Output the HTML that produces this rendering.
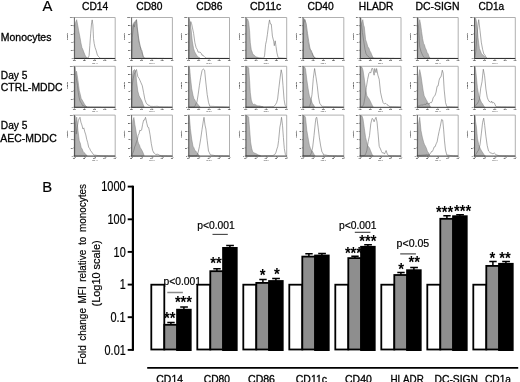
<!DOCTYPE html>
<html lang="en"><head><meta charset="utf-8"><title>Figure</title>
<style>html,body{margin:0;padding:0;background:#fff}body{width:520px;height:382px;overflow:hidden}svg text{white-space:pre}</style>
</head><body>
<svg width="520" height="382" viewBox="0 0 520 382" font-family='"Liberation Sans", sans-serif' style="display:block">
<rect width="520" height="382" fill="#fff"/>
<defs><filter id="bl" x="-5%" y="-5%" width="110%" height="110%"><feGaussianBlur stdDeviation="0.3"/></filter></defs>
<text x="42.4" y="11.4" font-size="14.8" fill="#000" stroke="#000" stroke-width="0.18">A</text>
<text x="82.0" y="10.1" font-size="10.4" textLength="26.3" lengthAdjust="spacingAndGlyphs" fill="#000" stroke="#000" stroke-width="0.3">CD14</text>
<text x="136.3" y="10.1" font-size="10.4" textLength="26.2" lengthAdjust="spacingAndGlyphs" fill="#000" stroke="#000" stroke-width="0.3">CD80</text>
<text x="196.3" y="10.1" font-size="10.4" textLength="26.2" lengthAdjust="spacingAndGlyphs" fill="#000" stroke="#000" stroke-width="0.3">CD86</text>
<text x="250.0" y="10.1" font-size="10.4" textLength="31.3" lengthAdjust="spacingAndGlyphs" fill="#000" stroke="#000" stroke-width="0.3">CD11c</text>
<text x="307.5" y="10.1" font-size="10.4" textLength="26.3" lengthAdjust="spacingAndGlyphs" fill="#000" stroke="#000" stroke-width="0.3">CD40</text>
<text x="358.8" y="10.1" font-size="10.4" textLength="34.7" lengthAdjust="spacingAndGlyphs" fill="#000" stroke="#000" stroke-width="0.3">HLADR</text>
<text x="415.4" y="10.1" font-size="10.4" textLength="44.1" lengthAdjust="spacingAndGlyphs" fill="#000" stroke="#000" stroke-width="0.3">DC-SIGN</text>
<text x="478.4" y="10.1" font-size="10.4" textLength="25.8" lengthAdjust="spacingAndGlyphs" fill="#000" stroke="#000" stroke-width="0.3">CD1a</text>
<text x="0.8" y="40.9" font-size="10.4" textLength="50.6" lengthAdjust="spacingAndGlyphs" fill="#000" stroke="#000" stroke-width="0.3">Monocytes</text>
<text x="0.8" y="78.6" font-size="10.4" textLength="26.6" lengthAdjust="spacingAndGlyphs" fill="#000" stroke="#000" stroke-width="0.3">Day 5</text>
<text x="0.8" y="90.8" font-size="10.4" textLength="61.8" lengthAdjust="spacingAndGlyphs" fill="#000" stroke="#000" stroke-width="0.3">CTRL-MDDC</text>
<text x="0.8" y="129.3" font-size="10.4" textLength="26.6" lengthAdjust="spacingAndGlyphs" fill="#000" stroke="#000" stroke-width="0.3">Day 5</text>
<text x="0.3" y="141.9" font-size="10.4" textLength="56.4" lengthAdjust="spacingAndGlyphs" fill="#000" stroke="#000" stroke-width="0.3">AEC-MDDC</text>
<g filter="url(#bl)">
<path d="M74.4 17.5H115.2V58.5" fill="none" stroke="#9c9c9c" stroke-width="0.8"/>
<polygon points="74.7,58.5 74.9,25.1 75.7,22.1 76.7,19.7 77.8,25.8 78.7,30.7 80.0,37.5 80.9,42.7 81.9,47.5 82.9,49.6 83.8,52.1 84.8,54.6 85.8,56.8 86.7,57.4 87.7,58.2" fill="#b2b2b2" stroke="#808080" stroke-width="0.5" stroke-linejoin="round"/>
<polyline points="74.7,58.2 75.4,58.2 76.1,58.2 76.9,58.2 77.6,58.2 78.4,58.2 79.1,58.2 79.8,58.2 80.6,58.2 81.3,58.2 82.1,58.2 82.8,58.2 83.5,58.2 84.3,58.2 85.0,58.2 85.8,58.2 86.6,58.1 87.5,58.0 88.3,57.8 89.1,55.5 89.8,45.6 90.7,33.2 91.6,22.8 92.2,19.9 92.9,24.9 93.5,38.6 94.2,43.6 95.1,47.6 96.1,50.4 97.4,55.1 98.7,56.8 99.4,57.4 100.2,58.2 100.9,58.2 101.6,58.3 102.3,58.3 103.0,58.3 103.7,58.3 104.4,58.3 105.1,58.3 105.8,58.3 106.5,58.3 107.2,58.3 107.9,58.3 108.6,58.3 109.3,58.3 110.0,58.3 110.7,58.3 111.4,58.3 112.1,58.3 112.8,58.4 113.5,58.4 114.2,58.4 114.9,58.4" fill="none" stroke="#707070" stroke-width="0.6" stroke-linejoin="round"/>
<path d="M74.4 17.5V58.5" fill="none" stroke="#3a3a3a" stroke-width="0.8"/>
<path d="M74.0 58.5H115.2" fill="none" stroke="#333" stroke-width="1"/>
<path d="M73.2 58.5H74.4M73.2 50.3H74.4M73.2 42.1H74.4M73.2 33.9H74.4M73.2 25.7H74.4M73.2 17.5H74.4M74.4 58.5V59.9M84.6 58.5V59.9M94.8 58.5V59.9M105.0 58.5V59.9M115.2 58.5V59.9" stroke="#555" stroke-width="0.6" fill="none"/>
<g font-size="2.0" fill="#000" font-weight="bold">
<text x="74.2" y="61.4" text-anchor="middle">10<tspan dy="-0.6" font-size="1.3">0</tspan></text>
<text x="84.4" y="61.4" text-anchor="middle">10<tspan dy="-0.6" font-size="1.3">1</tspan></text>
<text x="94.6" y="61.4" text-anchor="middle">10<tspan dy="-0.6" font-size="1.3">2</tspan></text>
<text x="104.8" y="61.4" text-anchor="middle">10<tspan dy="-0.6" font-size="1.3">3</tspan></text>
<text x="115.0" y="61.4" text-anchor="middle">10<tspan dy="-0.6" font-size="1.3">4</tspan></text>
<text x="72.7" y="59.1" text-anchor="end" font-size="1.7">0</text>
<text x="72.7" y="50.9" text-anchor="end" font-size="1.7">20</text>
<text x="72.7" y="42.7" text-anchor="end" font-size="1.7">40</text>
<text x="72.7" y="34.5" text-anchor="end" font-size="1.7">60</text>
<text x="72.7" y="26.3" text-anchor="end" font-size="1.7">80</text>
<text x="72.7" y="18.1" text-anchor="end" font-size="1.7">100</text>
<text x="94.8" y="63.5" text-anchor="middle" font-size="1.9" font-weight="normal">FL1-H</text>
<text transform="translate(68.1 36.5) rotate(-90)" text-anchor="middle" font-size="2.0" fill="#222">Counts</text>
</g></g>
<g filter="url(#bl)">
<path d="M131.6 17.5H172.4V58.5" fill="none" stroke="#9c9c9c" stroke-width="0.8"/>
<polygon points="131.8,58.5 132.1,27.7 133.2,23.7 134.5,21.9 135.4,22.5 136.5,19.8 137.1,28.1 138.4,38.2 139.7,45.5 140.7,48.0 141.6,51.4 142.9,55.9 144.2,58.2" fill="#b2b2b2" stroke="#808080" stroke-width="0.5" stroke-linejoin="round"/>
<polyline points="131.8,58.2 132.3,37.5 133.6,24.6 134.4,27.1 135.2,21.7 136.5,19.7 137.2,26.8 138.0,33.2 139.0,40.9 140.3,46.4 141.1,49.7 141.9,50.7 143.2,56.4 144.5,58.0 145.2,58.0 145.9,58.0 146.6,58.0 147.3,58.0 148.0,58.0 148.7,58.0 149.4,58.0 150.1,58.1 150.8,58.1 151.6,58.1 152.3,58.1 153.0,58.1 153.7,58.1 154.4,58.1 155.1,58.1 155.8,58.1 156.5,58.1 157.2,58.2 157.9,58.2 158.6,58.2 159.3,58.2 160.1,58.2 160.8,58.2 161.5,58.2 162.2,58.2 162.9,58.2 163.6,58.2 164.3,58.3 165.0,58.3 165.7,58.3 166.4,58.3 167.1,58.3 167.9,58.3 168.6,58.3 169.3,58.3 170.0,58.3 170.7,58.3 171.4,58.4 172.1,58.4" fill="none" stroke="#707070" stroke-width="0.6" stroke-linejoin="round"/>
<path d="M131.6 17.5V58.5" fill="none" stroke="#3a3a3a" stroke-width="0.8"/>
<path d="M131.2 58.5H172.4" fill="none" stroke="#333" stroke-width="1"/>
<path d="M130.4 58.5H131.6M130.4 50.3H131.6M130.4 42.1H131.6M130.4 33.9H131.6M130.4 25.7H131.6M130.4 17.5H131.6M131.6 58.5V59.9M141.8 58.5V59.9M152.0 58.5V59.9M162.2 58.5V59.9M172.4 58.5V59.9" stroke="#555" stroke-width="0.6" fill="none"/>
<g font-size="2.0" fill="#000" font-weight="bold">
<text x="131.4" y="61.4" text-anchor="middle">10<tspan dy="-0.6" font-size="1.3">0</tspan></text>
<text x="141.6" y="61.4" text-anchor="middle">10<tspan dy="-0.6" font-size="1.3">1</tspan></text>
<text x="151.8" y="61.4" text-anchor="middle">10<tspan dy="-0.6" font-size="1.3">2</tspan></text>
<text x="162.0" y="61.4" text-anchor="middle">10<tspan dy="-0.6" font-size="1.3">3</tspan></text>
<text x="172.2" y="61.4" text-anchor="middle">10<tspan dy="-0.6" font-size="1.3">4</tspan></text>
<text x="129.9" y="59.1" text-anchor="end" font-size="1.7">0</text>
<text x="129.9" y="50.9" text-anchor="end" font-size="1.7">20</text>
<text x="129.9" y="42.7" text-anchor="end" font-size="1.7">40</text>
<text x="129.9" y="34.5" text-anchor="end" font-size="1.7">60</text>
<text x="129.9" y="26.3" text-anchor="end" font-size="1.7">80</text>
<text x="129.9" y="18.1" text-anchor="end" font-size="1.7">100</text>
<text x="152.0" y="63.5" text-anchor="middle" font-size="1.9" font-weight="normal">FL1-H</text>
<text transform="translate(125.3 36.5) rotate(-90)" text-anchor="middle" font-size="2.0" fill="#222">Counts</text>
</g></g>
<g filter="url(#bl)">
<path d="M188.7 17.5H229.5V58.5" fill="none" stroke="#9c9c9c" stroke-width="0.8"/>
<polygon points="189.0,58.5 189.2,18.3 190.0,22.2 191.0,28.5 192.3,41.1 193.6,48.7 194.6,51.7 195.6,53.4 196.5,55.1 197.5,56.4 198.4,56.9 199.2,57.7 200.1,58.2" fill="#b2b2b2" stroke="#808080" stroke-width="0.5" stroke-linejoin="round"/>
<polyline points="189.0,58.2 189.5,28.9 190.8,21.6 191.6,23.7 192.3,27.1 193.6,33.3 194.9,42.8 196.2,47.9 197.2,49.3 198.1,52.1 199.1,52.2 200.1,52.1 201.1,53.1 202.0,55.2 203.0,55.1 204.0,56.4 204.8,57.2 205.7,57.6 206.5,58.1 207.3,58.1 208.0,58.1 208.7,58.1 209.4,58.1 210.1,58.1 210.8,58.2 211.6,58.2 212.3,58.2 213.0,58.2 213.7,58.2 214.4,58.2 215.2,58.2 215.9,58.2 216.6,58.2 217.3,58.2 218.0,58.2 218.7,58.2 219.5,58.3 220.2,58.3 220.9,58.3 221.6,58.3 222.3,58.3 223.1,58.3 223.8,58.3 224.5,58.3 225.2,58.3 225.9,58.3 226.6,58.3 227.4,58.3 228.1,58.4 228.8,58.4 229.5,58.4" fill="none" stroke="#707070" stroke-width="0.6" stroke-linejoin="round"/>
<path d="M188.7 17.5V58.5" fill="none" stroke="#3a3a3a" stroke-width="0.8"/>
<path d="M188.3 58.5H229.5" fill="none" stroke="#333" stroke-width="1"/>
<path d="M187.5 58.5H188.7M187.5 50.3H188.7M187.5 42.1H188.7M187.5 33.9H188.7M187.5 25.7H188.7M187.5 17.5H188.7M188.7 58.5V59.9M198.9 58.5V59.9M209.1 58.5V59.9M219.3 58.5V59.9M229.5 58.5V59.9" stroke="#555" stroke-width="0.6" fill="none"/>
<g font-size="2.0" fill="#000" font-weight="bold">
<text x="188.5" y="61.4" text-anchor="middle">10<tspan dy="-0.6" font-size="1.3">0</tspan></text>
<text x="198.7" y="61.4" text-anchor="middle">10<tspan dy="-0.6" font-size="1.3">1</tspan></text>
<text x="208.9" y="61.4" text-anchor="middle">10<tspan dy="-0.6" font-size="1.3">2</tspan></text>
<text x="219.1" y="61.4" text-anchor="middle">10<tspan dy="-0.6" font-size="1.3">3</tspan></text>
<text x="229.3" y="61.4" text-anchor="middle">10<tspan dy="-0.6" font-size="1.3">4</tspan></text>
<text x="187.0" y="59.1" text-anchor="end" font-size="1.7">0</text>
<text x="187.0" y="50.9" text-anchor="end" font-size="1.7">20</text>
<text x="187.0" y="42.7" text-anchor="end" font-size="1.7">40</text>
<text x="187.0" y="34.5" text-anchor="end" font-size="1.7">60</text>
<text x="187.0" y="26.3" text-anchor="end" font-size="1.7">80</text>
<text x="187.0" y="18.1" text-anchor="end" font-size="1.7">100</text>
<text x="209.1" y="63.5" text-anchor="middle" font-size="1.9" font-weight="normal">FL1-H</text>
<text transform="translate(182.4 36.5) rotate(-90)" text-anchor="middle" font-size="2.0" fill="#222">Counts</text>
</g></g>
<g filter="url(#bl)">
<path d="M245.9 17.5H286.7V58.5" fill="none" stroke="#9c9c9c" stroke-width="0.8"/>
<polygon points="246.1,58.5 246.4,18.5 247.7,19.2 248.7,22.4 249.6,30.9 250.3,42.8 251.3,49.9 252.1,51.8 252.9,54.6 253.8,54.8 254.6,55.5 255.5,56.4 256.3,56.9 257.1,57.1 257.9,57.5 258.7,57.8 259.5,57.9 260.3,58.0 261.0,58.1 261.8,58.2 262.5,58.3 263.3,58.4" fill="#b2b2b2" stroke="#808080" stroke-width="0.5" stroke-linejoin="round"/>
<polyline points="246.1,58.2 246.9,58.2 247.6,58.2 248.3,58.2 249.0,58.2 249.7,58.2 250.4,58.2 251.1,58.2 251.9,58.2 252.6,58.2 253.3,58.2 254.0,58.2 254.7,58.2 255.4,58.2 256.1,58.2 256.9,58.2 257.6,58.2 258.3,58.2 259.0,58.2 259.7,58.2 260.4,58.2 261.1,58.2 261.9,58.2 262.6,58.2 263.3,58.2 264.1,57.5 264.6,55.2 265.6,44.4 266.5,40.5 267.4,34.4 268.5,25.7 269.5,19.9 270.4,24.0 271.3,24.2 272.4,36.1 273.7,41.2 274.3,45.7 275.2,40.8 276.0,46.4 276.9,52.7 278.2,57.8 279.0,57.9 279.7,57.9 280.5,58.0 281.2,58.0 282.0,58.1 282.7,58.1 283.4,58.2 284.2,58.2 284.9,58.3 285.7,58.3 286.4,58.4" fill="none" stroke="#707070" stroke-width="0.6" stroke-linejoin="round"/>
<path d="M245.9 17.5V58.5" fill="none" stroke="#3a3a3a" stroke-width="0.8"/>
<path d="M245.5 58.5H286.7" fill="none" stroke="#333" stroke-width="1"/>
<path d="M244.7 58.5H245.9M244.7 50.3H245.9M244.7 42.1H245.9M244.7 33.9H245.9M244.7 25.7H245.9M244.7 17.5H245.9M245.9 58.5V59.9M256.1 58.5V59.9M266.3 58.5V59.9M276.5 58.5V59.9M286.7 58.5V59.9" stroke="#555" stroke-width="0.6" fill="none"/>
<g font-size="2.0" fill="#000" font-weight="bold">
<text x="245.7" y="61.4" text-anchor="middle">10<tspan dy="-0.6" font-size="1.3">0</tspan></text>
<text x="255.9" y="61.4" text-anchor="middle">10<tspan dy="-0.6" font-size="1.3">1</tspan></text>
<text x="266.1" y="61.4" text-anchor="middle">10<tspan dy="-0.6" font-size="1.3">2</tspan></text>
<text x="276.3" y="61.4" text-anchor="middle">10<tspan dy="-0.6" font-size="1.3">3</tspan></text>
<text x="286.5" y="61.4" text-anchor="middle">10<tspan dy="-0.6" font-size="1.3">4</tspan></text>
<text x="244.2" y="59.1" text-anchor="end" font-size="1.7">0</text>
<text x="244.2" y="50.9" text-anchor="end" font-size="1.7">20</text>
<text x="244.2" y="42.7" text-anchor="end" font-size="1.7">40</text>
<text x="244.2" y="34.5" text-anchor="end" font-size="1.7">60</text>
<text x="244.2" y="26.3" text-anchor="end" font-size="1.7">80</text>
<text x="244.2" y="18.1" text-anchor="end" font-size="1.7">100</text>
<text x="266.3" y="63.5" text-anchor="middle" font-size="1.9" font-weight="normal">FL1-H</text>
<text transform="translate(239.6 36.5) rotate(-90)" text-anchor="middle" font-size="2.0" fill="#222">Counts</text>
</g></g>
<g filter="url(#bl)">
<path d="M303.0 17.5H343.8V58.5" fill="none" stroke="#9c9c9c" stroke-width="0.8"/>
<polygon points="303.3,58.5 303.6,18.5 304.6,19.2 305.5,22.9 306.8,32.6 308.1,41.7 309.4,47.9 310.4,49.9 311.4,52.6 312.3,53.6 313.3,55.9 314.3,56.9 315.3,58.2" fill="#b2b2b2" stroke="#808080" stroke-width="0.5" stroke-linejoin="round"/>
<polyline points="303.3,58.2 303.8,23.0 304.9,19.7 306.2,23.7 307.5,33.4 308.8,42.0 310.1,49.2 311.0,50.2 311.9,52.2 312.8,54.9 313.7,57.0 314.7,57.6 315.8,58.2 316.5,58.2 317.2,58.2 317.9,58.2 318.6,58.3 319.3,58.3 320.1,58.3 320.8,58.3 321.5,58.3 322.2,58.3 322.9,58.3 323.6,58.3 324.3,58.3 325.0,58.3 325.8,58.3 326.5,58.3 327.2,58.3 327.9,58.3 328.6,58.3 329.3,58.3 330.0,58.3 330.7,58.3 331.5,58.3 332.2,58.3 332.9,58.3 333.6,58.3 334.3,58.3 335.0,58.3 335.7,58.3 336.5,58.3 337.2,58.3 337.9,58.3 338.6,58.3 339.3,58.3 340.0,58.4 340.7,58.4 341.4,58.4 342.2,58.4 342.9,58.4 343.6,58.4" fill="none" stroke="#707070" stroke-width="0.6" stroke-linejoin="round"/>
<path d="M303.0 17.5V58.5" fill="none" stroke="#3a3a3a" stroke-width="0.8"/>
<path d="M302.6 58.5H343.8" fill="none" stroke="#333" stroke-width="1"/>
<path d="M301.8 58.5H303.0M301.8 50.3H303.0M301.8 42.1H303.0M301.8 33.9H303.0M301.8 25.7H303.0M301.8 17.5H303.0M303.0 58.5V59.9M313.2 58.5V59.9M323.4 58.5V59.9M333.6 58.5V59.9M343.8 58.5V59.9" stroke="#555" stroke-width="0.6" fill="none"/>
<g font-size="2.0" fill="#000" font-weight="bold">
<text x="302.8" y="61.4" text-anchor="middle">10<tspan dy="-0.6" font-size="1.3">0</tspan></text>
<text x="313.0" y="61.4" text-anchor="middle">10<tspan dy="-0.6" font-size="1.3">1</tspan></text>
<text x="323.2" y="61.4" text-anchor="middle">10<tspan dy="-0.6" font-size="1.3">2</tspan></text>
<text x="333.4" y="61.4" text-anchor="middle">10<tspan dy="-0.6" font-size="1.3">3</tspan></text>
<text x="343.6" y="61.4" text-anchor="middle">10<tspan dy="-0.6" font-size="1.3">4</tspan></text>
<text x="301.3" y="59.1" text-anchor="end" font-size="1.7">0</text>
<text x="301.3" y="50.9" text-anchor="end" font-size="1.7">20</text>
<text x="301.3" y="42.7" text-anchor="end" font-size="1.7">40</text>
<text x="301.3" y="34.5" text-anchor="end" font-size="1.7">60</text>
<text x="301.3" y="26.3" text-anchor="end" font-size="1.7">80</text>
<text x="301.3" y="18.1" text-anchor="end" font-size="1.7">100</text>
<text x="323.4" y="63.5" text-anchor="middle" font-size="1.9" font-weight="normal">FL1-H</text>
<text transform="translate(296.7 36.5) rotate(-90)" text-anchor="middle" font-size="2.0" fill="#222">Counts</text>
</g></g>
<g filter="url(#bl)">
<path d="M360.2 17.5H401.0V58.5" fill="none" stroke="#9c9c9c" stroke-width="0.8"/>
<polygon points="360.5,58.5 360.7,31.6 361.8,22.7 362.8,19.7 363.6,25.1 364.3,27.0 365.6,39.4 366.9,43.4 367.9,47.0 368.9,48.1 369.8,50.9 370.8,52.4 371.8,55.0 372.8,57.1 373.4,58.2" fill="#b2b2b2" stroke="#808080" stroke-width="0.5" stroke-linejoin="round"/>
<polyline points="360.5,58.2 360.7,17.9 361.5,24.1 362.4,32.5 363.7,41.1 365.0,49.5 366.0,53.6 366.9,55.1 367.8,56.3 368.7,56.7 369.5,57.8 370.2,57.9 371.0,57.9 371.7,57.9 372.4,57.9 373.1,57.9 373.8,57.9 374.5,57.9 375.2,57.9 375.9,58.0 376.6,58.0 377.4,58.0 378.1,58.0 378.8,58.0 379.5,58.0 380.2,58.0 380.9,58.0 381.6,58.0 382.3,58.1 383.1,58.1 383.8,58.1 384.5,58.1 385.2,58.1 385.9,58.1 386.6,58.1 387.3,58.1 388.0,58.2 388.8,58.2 389.5,58.2 390.2,58.2 390.9,58.2 391.6,58.2 392.3,58.2 393.0,58.2 393.7,58.2 394.5,58.3 395.2,58.3 395.9,58.3 396.6,58.3 397.3,58.3 398.0,58.3 398.7,58.3 399.4,58.3 400.2,58.4 400.9,58.4" fill="none" stroke="#707070" stroke-width="0.6" stroke-linejoin="round"/>
<path d="M360.2 17.5V58.5" fill="none" stroke="#3a3a3a" stroke-width="0.8"/>
<path d="M359.8 58.5H401.0" fill="none" stroke="#333" stroke-width="1"/>
<path d="M359.0 58.5H360.2M359.0 50.3H360.2M359.0 42.1H360.2M359.0 33.9H360.2M359.0 25.7H360.2M359.0 17.5H360.2M360.2 58.5V59.9M370.4 58.5V59.9M380.6 58.5V59.9M390.8 58.5V59.9M401.0 58.5V59.9" stroke="#555" stroke-width="0.6" fill="none"/>
<g font-size="2.0" fill="#000" font-weight="bold">
<text x="360.0" y="61.4" text-anchor="middle">10<tspan dy="-0.6" font-size="1.3">0</tspan></text>
<text x="370.2" y="61.4" text-anchor="middle">10<tspan dy="-0.6" font-size="1.3">1</tspan></text>
<text x="380.4" y="61.4" text-anchor="middle">10<tspan dy="-0.6" font-size="1.3">2</tspan></text>
<text x="390.6" y="61.4" text-anchor="middle">10<tspan dy="-0.6" font-size="1.3">3</tspan></text>
<text x="400.8" y="61.4" text-anchor="middle">10<tspan dy="-0.6" font-size="1.3">4</tspan></text>
<text x="358.5" y="59.1" text-anchor="end" font-size="1.7">0</text>
<text x="358.5" y="50.9" text-anchor="end" font-size="1.7">20</text>
<text x="358.5" y="42.7" text-anchor="end" font-size="1.7">40</text>
<text x="358.5" y="34.5" text-anchor="end" font-size="1.7">60</text>
<text x="358.5" y="26.3" text-anchor="end" font-size="1.7">80</text>
<text x="358.5" y="18.1" text-anchor="end" font-size="1.7">100</text>
<text x="380.6" y="63.5" text-anchor="middle" font-size="1.9" font-weight="normal">FL1-H</text>
<text transform="translate(353.9 36.5) rotate(-90)" text-anchor="middle" font-size="2.0" fill="#222">Counts</text>
</g></g>
<g filter="url(#bl)">
<path d="M417.4 17.5H458.2V58.5" fill="none" stroke="#9c9c9c" stroke-width="0.8"/>
<polygon points="417.6,58.5 417.9,38.2 418.7,26.9 419.7,19.7 420.7,25.0 421.6,31.7 422.6,38.6 423.6,43.4 424.4,44.7 425.3,48.0 426.1,49.4 427.1,52.5 428.1,53.8 429.0,56.5 430.0,58.1" fill="#b2b2b2" stroke="#808080" stroke-width="0.5" stroke-linejoin="round"/>
<polyline points="417.6,58.2 417.9,17.9 418.7,28.9 419.7,47.0 421.0,51.5 421.9,53.7 422.9,55.8 423.9,57.2 424.8,58.1 425.6,58.1 426.3,58.1 427.0,58.1 427.7,58.1 428.4,58.1 429.1,58.1 429.8,58.1 430.5,58.2 431.2,58.2 431.9,58.2 432.6,58.2 433.3,58.2 434.0,58.2 434.7,58.2 435.4,58.2 436.1,58.2 436.8,58.2 437.5,58.2 438.2,58.2 438.9,58.2 439.6,58.2 440.3,58.2 441.0,58.2 441.7,58.2 442.4,58.2 443.1,58.3 443.8,58.3 444.5,58.3 445.2,58.3 445.9,58.3 446.6,58.3 447.4,58.3 448.1,58.3 448.8,58.3 449.5,58.3 450.2,58.3 450.9,58.3 451.6,58.3 452.3,58.3 453.0,58.3 453.7,58.3 454.4,58.3 455.1,58.3 455.8,58.4 456.5,58.4 457.2,58.4 457.9,58.4" fill="none" stroke="#707070" stroke-width="0.6" stroke-linejoin="round"/>
<path d="M417.4 17.5V58.5" fill="none" stroke="#3a3a3a" stroke-width="0.8"/>
<path d="M417.0 58.5H458.2" fill="none" stroke="#333" stroke-width="1"/>
<path d="M416.2 58.5H417.4M416.2 50.3H417.4M416.2 42.1H417.4M416.2 33.9H417.4M416.2 25.7H417.4M416.2 17.5H417.4M417.4 58.5V59.9M427.6 58.5V59.9M437.8 58.5V59.9M448.0 58.5V59.9M458.2 58.5V59.9" stroke="#555" stroke-width="0.6" fill="none"/>
<g font-size="2.0" fill="#000" font-weight="bold">
<text x="417.2" y="61.4" text-anchor="middle">10<tspan dy="-0.6" font-size="1.3">0</tspan></text>
<text x="427.4" y="61.4" text-anchor="middle">10<tspan dy="-0.6" font-size="1.3">1</tspan></text>
<text x="437.6" y="61.4" text-anchor="middle">10<tspan dy="-0.6" font-size="1.3">2</tspan></text>
<text x="447.8" y="61.4" text-anchor="middle">10<tspan dy="-0.6" font-size="1.3">3</tspan></text>
<text x="458.0" y="61.4" text-anchor="middle">10<tspan dy="-0.6" font-size="1.3">4</tspan></text>
<text x="415.7" y="59.1" text-anchor="end" font-size="1.7">0</text>
<text x="415.7" y="50.9" text-anchor="end" font-size="1.7">20</text>
<text x="415.7" y="42.7" text-anchor="end" font-size="1.7">40</text>
<text x="415.7" y="34.5" text-anchor="end" font-size="1.7">60</text>
<text x="415.7" y="26.3" text-anchor="end" font-size="1.7">80</text>
<text x="415.7" y="18.1" text-anchor="end" font-size="1.7">100</text>
<text x="437.8" y="63.5" text-anchor="middle" font-size="1.9" font-weight="normal">FL1-H</text>
<text transform="translate(411.1 36.5) rotate(-90)" text-anchor="middle" font-size="2.0" fill="#222">Counts</text>
</g></g>
<g filter="url(#bl)">
<path d="M474.5 17.5H515.3V58.5" fill="none" stroke="#9c9c9c" stroke-width="0.8"/>
<polygon points="474.8,58.5 475.0,18.3 475.8,18.5 476.7,23.0 478.1,38.0 479.4,48.5 480.3,50.6 481.3,53.2 482.2,54.5 483.1,55.1 483.9,56.1 484.8,56.7 485.7,57.5 486.6,58.2" fill="#b2b2b2" stroke="#808080" stroke-width="0.5" stroke-linejoin="round"/>
<polyline points="474.8,58.2 475.8,51.3 476.9,37.2 477.9,26.0 478.7,19.7 480.0,30.5 481.3,42.2 482.6,49.4 483.9,54.3 484.9,54.9 485.9,57.0 487.2,58.2 487.9,58.2 488.6,58.2 489.3,58.2 490.1,58.3 490.8,58.3 491.5,58.3 492.2,58.3 492.9,58.3 493.6,58.3 494.3,58.3 495.1,58.3 495.8,58.3 496.5,58.3 497.2,58.3 497.9,58.3 498.6,58.3 499.3,58.3 500.1,58.3 500.8,58.3 501.5,58.3 502.2,58.3 502.9,58.3 503.6,58.3 504.3,58.3 505.1,58.3 505.8,58.3 506.5,58.3 507.2,58.3 507.9,58.3 508.6,58.3 509.3,58.3 510.1,58.3 510.8,58.3 511.5,58.4 512.2,58.4 512.9,58.4 513.6,58.4 514.3,58.4 515.1,58.4" fill="none" stroke="#707070" stroke-width="0.6" stroke-linejoin="round"/>
<path d="M474.5 17.5V58.5" fill="none" stroke="#3a3a3a" stroke-width="0.8"/>
<path d="M474.1 58.5H515.3" fill="none" stroke="#333" stroke-width="1"/>
<path d="M473.3 58.5H474.5M473.3 50.3H474.5M473.3 42.1H474.5M473.3 33.9H474.5M473.3 25.7H474.5M473.3 17.5H474.5M474.5 58.5V59.9M484.7 58.5V59.9M494.9 58.5V59.9M505.1 58.5V59.9M515.3 58.5V59.9" stroke="#555" stroke-width="0.6" fill="none"/>
<g font-size="2.0" fill="#000" font-weight="bold">
<text x="474.3" y="61.4" text-anchor="middle">10<tspan dy="-0.6" font-size="1.3">0</tspan></text>
<text x="484.5" y="61.4" text-anchor="middle">10<tspan dy="-0.6" font-size="1.3">1</tspan></text>
<text x="494.7" y="61.4" text-anchor="middle">10<tspan dy="-0.6" font-size="1.3">2</tspan></text>
<text x="504.9" y="61.4" text-anchor="middle">10<tspan dy="-0.6" font-size="1.3">3</tspan></text>
<text x="515.1" y="61.4" text-anchor="middle">10<tspan dy="-0.6" font-size="1.3">4</tspan></text>
<text x="472.8" y="59.1" text-anchor="end" font-size="1.7">0</text>
<text x="472.8" y="50.9" text-anchor="end" font-size="1.7">20</text>
<text x="472.8" y="42.7" text-anchor="end" font-size="1.7">40</text>
<text x="472.8" y="34.5" text-anchor="end" font-size="1.7">60</text>
<text x="472.8" y="26.3" text-anchor="end" font-size="1.7">80</text>
<text x="472.8" y="18.1" text-anchor="end" font-size="1.7">100</text>
<text x="494.9" y="63.5" text-anchor="middle" font-size="1.9" font-weight="normal">FL1-H</text>
<text transform="translate(468.2 36.5) rotate(-90)" text-anchor="middle" font-size="2.0" fill="#222">Counts</text>
</g></g>
<g filter="url(#bl)">
<path d="M74.4 66.3H115.2V107.3" fill="none" stroke="#9c9c9c" stroke-width="0.8"/>
<polygon points="74.7,107.3 74.9,86.3 75.7,73.6 76.5,71.2 77.2,75.2 78.0,80.7 79.3,90.7 80.3,94.4 81.2,98.5 82.2,100.1 83.2,101.8 84.1,103.4 85.1,105.1 86.1,106.2 87.1,107.0" fill="#b2b2b2" stroke="#808080" stroke-width="0.5" stroke-linejoin="round"/>
<polyline points="74.7,107.0 74.9,66.7 75.7,74.0 76.7,80.8 77.5,85.6 78.3,92.8 79.1,97.4 80.0,101.1 80.8,102.3 81.7,103.7 82.5,105.5 83.4,105.5 84.3,106.2 85.1,106.9 85.8,106.9 86.5,106.9 87.2,106.9 88.0,106.9 88.7,106.9 89.4,106.9 90.1,107.0 90.8,107.0 91.5,107.0 92.2,107.0 92.9,107.0 93.6,107.0 94.3,107.0 95.1,107.0 95.8,107.0 96.5,107.0 97.2,107.0 97.9,107.0 98.6,107.0 99.3,107.0 100.0,107.0 100.7,107.0 101.4,107.1 102.2,107.1 102.9,107.1 103.6,107.1 104.3,107.1 105.0,107.1 105.7,107.1 106.4,107.1 107.1,107.1 107.8,107.1 108.6,107.1 109.3,107.1 110.0,107.1 110.7,107.1 111.4,107.1 112.1,107.1 112.8,107.2 113.5,107.2 114.2,107.2 114.9,107.2" fill="none" stroke="#707070" stroke-width="0.6" stroke-linejoin="round"/>
<path d="M74.4 66.3V107.3" fill="none" stroke="#3a3a3a" stroke-width="0.8"/>
<path d="M74.0 107.3H115.2" fill="none" stroke="#333" stroke-width="1"/>
<path d="M73.2 107.3H74.4M73.2 99.1H74.4M73.2 90.9H74.4M73.2 82.7H74.4M73.2 74.5H74.4M73.2 66.3H74.4M74.4 107.3V108.7M84.6 107.3V108.7M94.8 107.3V108.7M105.0 107.3V108.7M115.2 107.3V108.7" stroke="#555" stroke-width="0.6" fill="none"/>
<g font-size="2.0" fill="#000" font-weight="bold">
<text x="74.2" y="110.2" text-anchor="middle">10<tspan dy="-0.6" font-size="1.3">0</tspan></text>
<text x="84.4" y="110.2" text-anchor="middle">10<tspan dy="-0.6" font-size="1.3">1</tspan></text>
<text x="94.6" y="110.2" text-anchor="middle">10<tspan dy="-0.6" font-size="1.3">2</tspan></text>
<text x="104.8" y="110.2" text-anchor="middle">10<tspan dy="-0.6" font-size="1.3">3</tspan></text>
<text x="115.0" y="110.2" text-anchor="middle">10<tspan dy="-0.6" font-size="1.3">4</tspan></text>
<text x="72.7" y="107.9" text-anchor="end" font-size="1.7">0</text>
<text x="72.7" y="99.7" text-anchor="end" font-size="1.7">20</text>
<text x="72.7" y="91.5" text-anchor="end" font-size="1.7">40</text>
<text x="72.7" y="83.3" text-anchor="end" font-size="1.7">60</text>
<text x="72.7" y="75.1" text-anchor="end" font-size="1.7">80</text>
<text x="72.7" y="66.9" text-anchor="end" font-size="1.7">100</text>
<text x="94.8" y="112.3" text-anchor="middle" font-size="1.9" font-weight="normal">FL1-H</text>
<text transform="translate(68.1 85.3) rotate(-90)" text-anchor="middle" font-size="2.0" fill="#222">Counts</text>
</g></g>
<g filter="url(#bl)">
<path d="M131.6 66.3H172.4V107.3" fill="none" stroke="#9c9c9c" stroke-width="0.8"/>
<polygon points="131.8,107.3 132.1,78.5 133.2,71.0 134.5,69.5 135.8,71.2 136.5,81.1 137.8,91.1 139.0,95.5 140.0,97.6 141.0,99.3 142.0,101.2 142.9,103.9 144.2,107.0" fill="#b2b2b2" stroke="#808080" stroke-width="0.5" stroke-linejoin="round"/>
<polyline points="131.8,107.0 132.1,86.1 133.2,78.7 134.2,74.2 135.2,72.4 136.5,69.5 137.8,76.5 139.0,78.3 140.0,80.5 141.0,82.8 142.3,85.8 143.6,92.6 144.9,99.6 146.1,102.7 147.1,104.3 148.1,105.1 149.1,105.2 150.0,106.3 150.8,106.3 151.6,106.4 152.4,106.4 153.3,106.5 154.0,106.5 154.8,106.4 155.6,106.4 156.3,106.3 157.1,106.3 158.0,106.4 158.8,106.6 159.7,106.8 160.4,106.8 161.2,106.8 161.9,106.8 162.6,106.8 163.4,106.9 164.1,106.9 164.8,106.9 165.5,106.9 166.3,106.9 167.0,106.9 167.7,106.9 168.5,107.0 169.2,107.0 169.9,107.0 170.6,107.0 171.4,107.0 172.1,107.0" fill="none" stroke="#707070" stroke-width="0.6" stroke-linejoin="round"/>
<path d="M131.6 66.3V107.3" fill="none" stroke="#3a3a3a" stroke-width="0.8"/>
<path d="M131.2 107.3H172.4" fill="none" stroke="#333" stroke-width="1"/>
<path d="M130.4 107.3H131.6M130.4 99.1H131.6M130.4 90.9H131.6M130.4 82.7H131.6M130.4 74.5H131.6M130.4 66.3H131.6M131.6 107.3V108.7M141.8 107.3V108.7M152.0 107.3V108.7M162.2 107.3V108.7M172.4 107.3V108.7" stroke="#555" stroke-width="0.6" fill="none"/>
<g font-size="2.0" fill="#000" font-weight="bold">
<text x="131.4" y="110.2" text-anchor="middle">10<tspan dy="-0.6" font-size="1.3">0</tspan></text>
<text x="141.6" y="110.2" text-anchor="middle">10<tspan dy="-0.6" font-size="1.3">1</tspan></text>
<text x="151.8" y="110.2" text-anchor="middle">10<tspan dy="-0.6" font-size="1.3">2</tspan></text>
<text x="162.0" y="110.2" text-anchor="middle">10<tspan dy="-0.6" font-size="1.3">3</tspan></text>
<text x="172.2" y="110.2" text-anchor="middle">10<tspan dy="-0.6" font-size="1.3">4</tspan></text>
<text x="129.9" y="107.9" text-anchor="end" font-size="1.7">0</text>
<text x="129.9" y="99.7" text-anchor="end" font-size="1.7">20</text>
<text x="129.9" y="91.5" text-anchor="end" font-size="1.7">40</text>
<text x="129.9" y="83.3" text-anchor="end" font-size="1.7">60</text>
<text x="129.9" y="75.1" text-anchor="end" font-size="1.7">80</text>
<text x="129.9" y="66.9" text-anchor="end" font-size="1.7">100</text>
<text x="152.0" y="112.3" text-anchor="middle" font-size="1.9" font-weight="normal">FL1-H</text>
<text transform="translate(125.3 85.3) rotate(-90)" text-anchor="middle" font-size="2.0" fill="#222">Counts</text>
</g></g>
<g filter="url(#bl)">
<path d="M188.7 66.3H229.5V107.3" fill="none" stroke="#9c9c9c" stroke-width="0.8"/>
<polygon points="189.0,107.3 189.2,66.4 189.8,69.7 190.4,76.8 191.7,88.6 193.0,95.3 193.9,98.5 194.9,100.0 195.8,101.7 196.6,102.8 197.5,103.8 198.4,105.0 199.2,106.0 200.1,107.0" fill="#b2b2b2" stroke="#808080" stroke-width="0.5" stroke-linejoin="round"/>
<polyline points="189.0,107.0 189.8,107.0 190.5,107.0 191.3,107.0 192.1,107.0 192.9,106.9 193.6,106.9 194.9,106.3 195.9,103.8 196.9,102.3 198.1,94.9 199.4,85.4 200.7,77.3 202.0,70.7 203.3,68.9 204.6,70.1 205.9,83.0 207.2,94.6 208.5,102.3 209.8,106.3 210.5,106.3 211.2,106.3 211.9,106.3 212.7,106.4 213.4,106.4 214.1,106.4 214.8,106.5 215.5,106.5 216.3,106.5 217.0,106.5 217.7,106.6 218.4,106.6 219.2,106.6 219.9,106.7 220.6,106.7 221.3,106.7 222.0,106.7 222.8,106.8 223.5,106.8 224.2,106.8 224.9,106.9 225.7,106.9 226.4,106.9 227.1,107.0 227.8,107.0 228.5,107.0 229.3,107.0" fill="none" stroke="#707070" stroke-width="0.6" stroke-linejoin="round"/>
<path d="M188.7 66.3V107.3" fill="none" stroke="#3a3a3a" stroke-width="0.8"/>
<path d="M188.3 107.3H229.5" fill="none" stroke="#333" stroke-width="1"/>
<path d="M187.5 107.3H188.7M187.5 99.1H188.7M187.5 90.9H188.7M187.5 82.7H188.7M187.5 74.5H188.7M187.5 66.3H188.7M188.7 107.3V108.7M198.9 107.3V108.7M209.1 107.3V108.7M219.3 107.3V108.7M229.5 107.3V108.7" stroke="#555" stroke-width="0.6" fill="none"/>
<g font-size="2.0" fill="#000" font-weight="bold">
<text x="188.5" y="110.2" text-anchor="middle">10<tspan dy="-0.6" font-size="1.3">0</tspan></text>
<text x="198.7" y="110.2" text-anchor="middle">10<tspan dy="-0.6" font-size="1.3">1</tspan></text>
<text x="208.9" y="110.2" text-anchor="middle">10<tspan dy="-0.6" font-size="1.3">2</tspan></text>
<text x="219.1" y="110.2" text-anchor="middle">10<tspan dy="-0.6" font-size="1.3">3</tspan></text>
<text x="229.3" y="110.2" text-anchor="middle">10<tspan dy="-0.6" font-size="1.3">4</tspan></text>
<text x="187.0" y="107.9" text-anchor="end" font-size="1.7">0</text>
<text x="187.0" y="99.7" text-anchor="end" font-size="1.7">20</text>
<text x="187.0" y="91.5" text-anchor="end" font-size="1.7">40</text>
<text x="187.0" y="83.3" text-anchor="end" font-size="1.7">60</text>
<text x="187.0" y="75.1" text-anchor="end" font-size="1.7">80</text>
<text x="187.0" y="66.9" text-anchor="end" font-size="1.7">100</text>
<text x="209.1" y="112.3" text-anchor="middle" font-size="1.9" font-weight="normal">FL1-H</text>
<text transform="translate(182.4 85.3) rotate(-90)" text-anchor="middle" font-size="2.0" fill="#222">Counts</text>
</g></g>
<g filter="url(#bl)">
<path d="M245.9 66.3H286.7V107.3" fill="none" stroke="#9c9c9c" stroke-width="0.8"/>
<polygon points="246.1,107.3 246.4,66.4 247.7,67.0 248.7,68.0 249.6,80.6 250.3,92.6 251.3,100.2 252.1,102.4 252.9,104.2 253.7,104.6 254.5,104.2 255.2,104.5 256.0,105.2 256.8,105.4 257.5,105.8 258.2,105.9 259.0,105.8 259.7,105.9 260.4,106.1 261.1,106.3 261.8,106.5 262.6,106.6 263.3,106.8" fill="#b2b2b2" stroke="#808080" stroke-width="0.5" stroke-linejoin="round"/>
<polyline points="246.1,107.0 246.9,107.0 247.6,107.0 248.3,107.0 249.0,107.0 249.7,107.0 250.4,107.0 251.1,107.0 251.9,107.0 252.6,107.0 253.3,107.0 254.0,107.0 254.7,107.0 255.4,107.0 256.1,107.0 256.9,107.0 257.6,107.0 258.3,106.9 259.0,106.9 259.7,106.9 260.4,106.9 261.1,106.9 261.9,106.9 262.6,106.9 263.3,106.9 264.0,106.9 264.8,106.9 265.5,106.8 266.3,106.8 267.0,106.8 267.7,106.7 268.5,106.7 269.2,106.7 270.0,106.7 270.7,106.6 271.5,106.6 272.2,106.6 272.9,106.5 273.7,106.5 274.7,105.7 275.6,104.4 276.6,102.7 277.6,99.1 278.9,87.7 280.2,77.1 281.2,69.8 282.1,74.1 283.0,85.6 284.1,99.7 285.1,105.2 286.4,106.9" fill="none" stroke="#707070" stroke-width="0.6" stroke-linejoin="round"/>
<path d="M245.9 66.3V107.3" fill="none" stroke="#3a3a3a" stroke-width="0.8"/>
<path d="M245.5 107.3H286.7" fill="none" stroke="#333" stroke-width="1"/>
<path d="M244.7 107.3H245.9M244.7 99.1H245.9M244.7 90.9H245.9M244.7 82.7H245.9M244.7 74.5H245.9M244.7 66.3H245.9M245.9 107.3V108.7M256.1 107.3V108.7M266.3 107.3V108.7M276.5 107.3V108.7M286.7 107.3V108.7" stroke="#555" stroke-width="0.6" fill="none"/>
<g font-size="2.0" fill="#000" font-weight="bold">
<text x="245.7" y="110.2" text-anchor="middle">10<tspan dy="-0.6" font-size="1.3">0</tspan></text>
<text x="255.9" y="110.2" text-anchor="middle">10<tspan dy="-0.6" font-size="1.3">1</tspan></text>
<text x="266.1" y="110.2" text-anchor="middle">10<tspan dy="-0.6" font-size="1.3">2</tspan></text>
<text x="276.3" y="110.2" text-anchor="middle">10<tspan dy="-0.6" font-size="1.3">3</tspan></text>
<text x="286.5" y="110.2" text-anchor="middle">10<tspan dy="-0.6" font-size="1.3">4</tspan></text>
<text x="244.2" y="107.9" text-anchor="end" font-size="1.7">0</text>
<text x="244.2" y="99.7" text-anchor="end" font-size="1.7">20</text>
<text x="244.2" y="91.5" text-anchor="end" font-size="1.7">40</text>
<text x="244.2" y="83.3" text-anchor="end" font-size="1.7">60</text>
<text x="244.2" y="75.1" text-anchor="end" font-size="1.7">80</text>
<text x="244.2" y="66.9" text-anchor="end" font-size="1.7">100</text>
<text x="266.3" y="112.3" text-anchor="middle" font-size="1.9" font-weight="normal">FL1-H</text>
<text transform="translate(239.6 85.3) rotate(-90)" text-anchor="middle" font-size="2.0" fill="#222">Counts</text>
</g></g>
<g filter="url(#bl)">
<path d="M303.0 66.3H343.8V107.3" fill="none" stroke="#9c9c9c" stroke-width="0.8"/>
<polygon points="303.3,107.3 303.6,66.4 304.6,67.0 305.5,68.9 306.8,79.6 308.1,88.6 309.4,96.0 310.4,98.2 311.4,100.6 312.3,103.3 313.3,104.6 314.6,107.0" fill="#b2b2b2" stroke="#808080" stroke-width="0.5" stroke-linejoin="round"/>
<polyline points="303.3,107.0 304.1,107.0 304.8,107.0 305.6,107.0 306.4,107.0 307.1,107.0 307.9,106.9 308.6,106.9 309.4,106.9 310.7,102.6 312.0,94.4 313.3,78.3 314.6,68.5 315.9,76.6 317.2,85.2 318.5,97.1 319.8,103.7 320.8,104.5 321.8,106.4 322.5,106.4 323.2,106.4 323.9,106.4 324.6,106.5 325.3,106.5 326.0,106.5 326.7,106.5 327.4,106.6 328.1,106.6 328.8,106.6 329.5,106.6 330.2,106.6 330.9,106.7 331.6,106.7 332.3,106.7 333.0,106.7 333.7,106.7 334.4,106.8 335.1,106.8 335.8,106.8 336.5,106.8 337.2,106.8 337.9,106.9 338.7,106.9 339.4,106.9 340.1,106.9 340.8,107.0 341.5,107.0 342.2,107.0 342.9,107.0 343.6,107.0" fill="none" stroke="#707070" stroke-width="0.6" stroke-linejoin="round"/>
<path d="M303.0 66.3V107.3" fill="none" stroke="#3a3a3a" stroke-width="0.8"/>
<path d="M302.6 107.3H343.8" fill="none" stroke="#333" stroke-width="1"/>
<path d="M301.8 107.3H303.0M301.8 99.1H303.0M301.8 90.9H303.0M301.8 82.7H303.0M301.8 74.5H303.0M301.8 66.3H303.0M303.0 107.3V108.7M313.2 107.3V108.7M323.4 107.3V108.7M333.6 107.3V108.7M343.8 107.3V108.7" stroke="#555" stroke-width="0.6" fill="none"/>
<g font-size="2.0" fill="#000" font-weight="bold">
<text x="302.8" y="110.2" text-anchor="middle">10<tspan dy="-0.6" font-size="1.3">0</tspan></text>
<text x="313.0" y="110.2" text-anchor="middle">10<tspan dy="-0.6" font-size="1.3">1</tspan></text>
<text x="323.2" y="110.2" text-anchor="middle">10<tspan dy="-0.6" font-size="1.3">2</tspan></text>
<text x="333.4" y="110.2" text-anchor="middle">10<tspan dy="-0.6" font-size="1.3">3</tspan></text>
<text x="343.6" y="110.2" text-anchor="middle">10<tspan dy="-0.6" font-size="1.3">4</tspan></text>
<text x="301.3" y="107.9" text-anchor="end" font-size="1.7">0</text>
<text x="301.3" y="99.7" text-anchor="end" font-size="1.7">20</text>
<text x="301.3" y="91.5" text-anchor="end" font-size="1.7">40</text>
<text x="301.3" y="83.3" text-anchor="end" font-size="1.7">60</text>
<text x="301.3" y="75.1" text-anchor="end" font-size="1.7">80</text>
<text x="301.3" y="66.9" text-anchor="end" font-size="1.7">100</text>
<text x="323.4" y="112.3" text-anchor="middle" font-size="1.9" font-weight="normal">FL1-H</text>
<text transform="translate(296.7 85.3) rotate(-90)" text-anchor="middle" font-size="2.0" fill="#222">Counts</text>
</g></g>
<g filter="url(#bl)">
<path d="M360.2 66.3H401.0V107.3" fill="none" stroke="#9c9c9c" stroke-width="0.8"/>
<polygon points="360.5,107.3 360.7,66.4 362.0,67.3 363.0,70.2 364.3,79.1 365.6,89.1 366.9,95.7 367.8,97.2 368.7,98.3 369.5,99.7 370.5,101.7 371.5,103.9 372.3,105.4 373.2,107.0" fill="#b2b2b2" stroke="#808080" stroke-width="0.5" stroke-linejoin="round"/>
<polyline points="360.5,107.0 361.4,106.8 362.4,106.6 363.7,104.4 365.0,97.1 366.3,87.6 367.6,79.5 368.9,73.5 369.8,72.2 370.8,72.9 371.8,68.5 372.8,68.6 374.1,75.2 374.7,68.5 376.0,72.6 376.6,68.5 377.9,75.2 379.2,79.3 380.5,92.1 381.8,98.1 383.1,102.6 384.4,104.0 385.7,103.3 387.0,104.7 388.0,105.1 389.0,106.4 389.7,106.4 390.4,106.5 391.1,106.5 391.8,106.5 392.5,106.6 393.2,106.6 393.9,106.7 394.6,106.7 395.3,106.7 396.0,106.8 396.7,106.8 397.4,106.8 398.1,106.9 398.8,106.9 399.5,107.0 400.2,107.0 400.9,107.0" fill="none" stroke="#707070" stroke-width="0.6" stroke-linejoin="round"/>
<path d="M360.2 66.3V107.3" fill="none" stroke="#3a3a3a" stroke-width="0.8"/>
<path d="M359.8 107.3H401.0" fill="none" stroke="#333" stroke-width="1"/>
<path d="M359.0 107.3H360.2M359.0 99.1H360.2M359.0 90.9H360.2M359.0 82.7H360.2M359.0 74.5H360.2M359.0 66.3H360.2M360.2 107.3V108.7M370.4 107.3V108.7M380.6 107.3V108.7M390.8 107.3V108.7M401.0 107.3V108.7" stroke="#555" stroke-width="0.6" fill="none"/>
<g font-size="2.0" fill="#000" font-weight="bold">
<text x="360.0" y="110.2" text-anchor="middle">10<tspan dy="-0.6" font-size="1.3">0</tspan></text>
<text x="370.2" y="110.2" text-anchor="middle">10<tspan dy="-0.6" font-size="1.3">1</tspan></text>
<text x="380.4" y="110.2" text-anchor="middle">10<tspan dy="-0.6" font-size="1.3">2</tspan></text>
<text x="390.6" y="110.2" text-anchor="middle">10<tspan dy="-0.6" font-size="1.3">3</tspan></text>
<text x="400.8" y="110.2" text-anchor="middle">10<tspan dy="-0.6" font-size="1.3">4</tspan></text>
<text x="358.5" y="107.9" text-anchor="end" font-size="1.7">0</text>
<text x="358.5" y="99.7" text-anchor="end" font-size="1.7">20</text>
<text x="358.5" y="91.5" text-anchor="end" font-size="1.7">40</text>
<text x="358.5" y="83.3" text-anchor="end" font-size="1.7">60</text>
<text x="358.5" y="75.1" text-anchor="end" font-size="1.7">80</text>
<text x="358.5" y="66.9" text-anchor="end" font-size="1.7">100</text>
<text x="380.6" y="112.3" text-anchor="middle" font-size="1.9" font-weight="normal">FL1-H</text>
<text transform="translate(353.9 85.3) rotate(-90)" text-anchor="middle" font-size="2.0" fill="#222">Counts</text>
</g></g>
<g filter="url(#bl)">
<path d="M417.4 66.3H458.2V107.3" fill="none" stroke="#9c9c9c" stroke-width="0.8"/>
<polygon points="417.6,107.3 417.9,86.3 418.7,75.7 419.7,69.6 421.0,76.0 422.3,84.9 423.2,90.9 424.2,95.9 425.2,97.7 426.1,99.5 427.1,101.2 428.1,103.2 429.0,104.1 430.0,106.3 430.7,107.0" fill="#b2b2b2" stroke="#808080" stroke-width="0.5" stroke-linejoin="round"/>
<polyline points="417.6,106.3 418.4,106.0 419.2,106.0 419.9,105.5 420.7,105.1 421.5,105.0 422.3,104.8 423.0,105.4 423.7,104.5 424.5,104.3 425.2,104.4 426.0,104.5 426.7,102.9 427.4,103.5 428.2,103.7 429.0,104.3 429.8,102.9 430.5,102.6 431.3,102.8 432.3,101.1 433.2,97.5 434.2,96.6 435.2,95.0 436.1,92.1 437.1,86.3 438.1,85.9 439.1,80.2 440.0,77.6 441.0,76.9 442.3,70.2 443.2,73.2 444.2,89.8 445.5,102.5 446.8,106.6 447.5,106.7 448.3,106.7 449.0,106.7 449.8,106.7 450.5,106.8 451.2,106.8 452.0,106.8 452.7,106.9 453.5,106.9 454.2,106.9 454.9,106.9 455.7,107.0 456.4,107.0 457.2,107.0 457.9,107.0" fill="none" stroke="#707070" stroke-width="0.6" stroke-linejoin="round"/>
<path d="M417.4 66.3V107.3" fill="none" stroke="#3a3a3a" stroke-width="0.8"/>
<path d="M417.0 107.3H458.2" fill="none" stroke="#333" stroke-width="1"/>
<path d="M416.2 107.3H417.4M416.2 99.1H417.4M416.2 90.9H417.4M416.2 82.7H417.4M416.2 74.5H417.4M416.2 66.3H417.4M417.4 107.3V108.7M427.6 107.3V108.7M437.8 107.3V108.7M448.0 107.3V108.7M458.2 107.3V108.7" stroke="#555" stroke-width="0.6" fill="none"/>
<g font-size="2.0" fill="#000" font-weight="bold">
<text x="417.2" y="110.2" text-anchor="middle">10<tspan dy="-0.6" font-size="1.3">0</tspan></text>
<text x="427.4" y="110.2" text-anchor="middle">10<tspan dy="-0.6" font-size="1.3">1</tspan></text>
<text x="437.6" y="110.2" text-anchor="middle">10<tspan dy="-0.6" font-size="1.3">2</tspan></text>
<text x="447.8" y="110.2" text-anchor="middle">10<tspan dy="-0.6" font-size="1.3">3</tspan></text>
<text x="458.0" y="110.2" text-anchor="middle">10<tspan dy="-0.6" font-size="1.3">4</tspan></text>
<text x="415.7" y="107.9" text-anchor="end" font-size="1.7">0</text>
<text x="415.7" y="99.7" text-anchor="end" font-size="1.7">20</text>
<text x="415.7" y="91.5" text-anchor="end" font-size="1.7">40</text>
<text x="415.7" y="83.3" text-anchor="end" font-size="1.7">60</text>
<text x="415.7" y="75.1" text-anchor="end" font-size="1.7">80</text>
<text x="415.7" y="66.9" text-anchor="end" font-size="1.7">100</text>
<text x="437.8" y="112.3" text-anchor="middle" font-size="1.9" font-weight="normal">FL1-H</text>
<text transform="translate(411.1 85.3) rotate(-90)" text-anchor="middle" font-size="2.0" fill="#222">Counts</text>
</g></g>
<g filter="url(#bl)">
<path d="M474.5 66.3H515.3V107.3" fill="none" stroke="#9c9c9c" stroke-width="0.8"/>
<polygon points="474.8,107.3 475.0,66.4 475.6,69.5 476.4,77.1 477.4,87.6 478.7,95.2 479.7,98.2 480.7,100.7 481.6,102.8 482.6,103.7 483.6,106.0 484.6,106.8" fill="#b2b2b2" stroke="#808080" stroke-width="0.5" stroke-linejoin="round"/>
<polyline points="474.8,106.3 475.7,105.5 476.5,104.2 477.4,103.6 478.4,101.6 479.4,99.5 480.7,88.2 482.0,81.8 483.3,69.2 484.6,75.8 485.9,89.0 487.2,97.2 488.2,99.9 489.2,101.5 490.0,101.7 490.8,102.5 491.6,101.1 492.4,103.0 493.4,102.5 494.4,103.1 495.2,104.9 496.0,106.6 496.7,106.7 497.4,106.7 498.1,106.7 498.8,106.7 499.5,106.7 500.2,106.7 500.9,106.7 501.6,106.8 502.3,106.8 503.0,106.8 503.7,106.8 504.5,106.8 505.2,106.8 505.9,106.8 506.6,106.9 507.3,106.9 508.0,106.9 508.7,106.9 509.4,106.9 510.1,106.9 510.8,107.0 511.5,107.0 512.2,107.0 512.9,107.0 513.6,107.0 514.4,107.0 515.1,107.0" fill="none" stroke="#707070" stroke-width="0.6" stroke-linejoin="round"/>
<path d="M474.5 66.3V107.3" fill="none" stroke="#3a3a3a" stroke-width="0.8"/>
<path d="M474.1 107.3H515.3" fill="none" stroke="#333" stroke-width="1"/>
<path d="M473.3 107.3H474.5M473.3 99.1H474.5M473.3 90.9H474.5M473.3 82.7H474.5M473.3 74.5H474.5M473.3 66.3H474.5M474.5 107.3V108.7M484.7 107.3V108.7M494.9 107.3V108.7M505.1 107.3V108.7M515.3 107.3V108.7" stroke="#555" stroke-width="0.6" fill="none"/>
<g font-size="2.0" fill="#000" font-weight="bold">
<text x="474.3" y="110.2" text-anchor="middle">10<tspan dy="-0.6" font-size="1.3">0</tspan></text>
<text x="484.5" y="110.2" text-anchor="middle">10<tspan dy="-0.6" font-size="1.3">1</tspan></text>
<text x="494.7" y="110.2" text-anchor="middle">10<tspan dy="-0.6" font-size="1.3">2</tspan></text>
<text x="504.9" y="110.2" text-anchor="middle">10<tspan dy="-0.6" font-size="1.3">3</tspan></text>
<text x="515.1" y="110.2" text-anchor="middle">10<tspan dy="-0.6" font-size="1.3">4</tspan></text>
<text x="472.8" y="107.9" text-anchor="end" font-size="1.7">0</text>
<text x="472.8" y="99.7" text-anchor="end" font-size="1.7">20</text>
<text x="472.8" y="91.5" text-anchor="end" font-size="1.7">40</text>
<text x="472.8" y="83.3" text-anchor="end" font-size="1.7">60</text>
<text x="472.8" y="75.1" text-anchor="end" font-size="1.7">80</text>
<text x="472.8" y="66.9" text-anchor="end" font-size="1.7">100</text>
<text x="494.9" y="112.3" text-anchor="middle" font-size="1.9" font-weight="normal">FL1-H</text>
<text transform="translate(468.2 85.3) rotate(-90)" text-anchor="middle" font-size="2.0" fill="#222">Counts</text>
</g></g>
<g filter="url(#bl)">
<path d="M74.4 115.1H115.2V156.1" fill="none" stroke="#9c9c9c" stroke-width="0.8"/>
<polygon points="74.7,156.1 74.9,136.7 75.7,122.9 76.7,117.1 78.0,130.7 79.3,141.0 80.3,143.2 81.2,147.6 82.2,149.1 83.2,151.6 84.0,152.5 84.9,153.3 85.8,154.3 87.1,155.8" fill="#b2b2b2" stroke="#808080" stroke-width="0.5" stroke-linejoin="round"/>
<polyline points="74.7,155.8 74.9,115.8 75.4,123.2 76.2,134.1 77.0,128.7 78.3,120.8 79.1,118.7 80.0,117.3 80.9,122.2 81.9,125.0 82.9,128.9 83.8,127.9 84.8,131.9 85.8,134.9 86.7,139.2 87.7,142.6 88.7,147.2 89.6,148.4 90.6,150.7 91.6,151.9 92.4,153.1 93.3,154.4 94.2,155.1 94.9,155.1 95.6,155.2 96.3,155.3 97.1,155.4 97.8,155.5 98.5,155.5 99.2,155.6 100.0,155.7 100.7,155.7 101.4,155.7 102.1,155.7 102.8,155.8 103.5,155.8 104.2,155.8 105.0,155.8 105.7,155.8 106.4,155.8 107.1,155.8 107.8,155.8 108.5,155.9 109.2,155.9 109.9,155.9 110.7,155.9 111.4,155.9 112.1,155.9 112.8,155.9 113.5,155.9 114.2,156.0 114.9,156.0" fill="none" stroke="#707070" stroke-width="0.6" stroke-linejoin="round"/>
<path d="M74.4 115.1V156.1" fill="none" stroke="#3a3a3a" stroke-width="0.8"/>
<path d="M74.0 156.1H115.2" fill="none" stroke="#333" stroke-width="1"/>
<path d="M73.2 156.1H74.4M73.2 147.9H74.4M73.2 139.7H74.4M73.2 131.5H74.4M73.2 123.3H74.4M73.2 115.1H74.4M74.4 156.1V157.5M84.6 156.1V157.5M94.8 156.1V157.5M105.0 156.1V157.5M115.2 156.1V157.5" stroke="#555" stroke-width="0.6" fill="none"/>
<g font-size="2.0" fill="#000" font-weight="bold">
<text x="74.2" y="159.0" text-anchor="middle">10<tspan dy="-0.6" font-size="1.3">0</tspan></text>
<text x="84.4" y="159.0" text-anchor="middle">10<tspan dy="-0.6" font-size="1.3">1</tspan></text>
<text x="94.6" y="159.0" text-anchor="middle">10<tspan dy="-0.6" font-size="1.3">2</tspan></text>
<text x="104.8" y="159.0" text-anchor="middle">10<tspan dy="-0.6" font-size="1.3">3</tspan></text>
<text x="115.0" y="159.0" text-anchor="middle">10<tspan dy="-0.6" font-size="1.3">4</tspan></text>
<text x="72.7" y="156.7" text-anchor="end" font-size="1.7">0</text>
<text x="72.7" y="148.5" text-anchor="end" font-size="1.7">20</text>
<text x="72.7" y="140.3" text-anchor="end" font-size="1.7">40</text>
<text x="72.7" y="132.1" text-anchor="end" font-size="1.7">60</text>
<text x="72.7" y="123.9" text-anchor="end" font-size="1.7">80</text>
<text x="72.7" y="115.7" text-anchor="end" font-size="1.7">100</text>
<text x="94.8" y="161.1" text-anchor="middle" font-size="1.9" font-weight="normal">FL1-H</text>
<text transform="translate(68.1 134.1) rotate(-90)" text-anchor="middle" font-size="2.0" fill="#222">Counts</text>
</g></g>
<g filter="url(#bl)">
<path d="M131.6 115.1H172.4V156.1" fill="none" stroke="#9c9c9c" stroke-width="0.8"/>
<polygon points="131.8,156.1 132.1,134.1 132.9,120.6 133.9,117.5 134.9,124.7 135.8,130.0 136.8,136.2 137.8,141.0 138.6,143.6 139.5,145.2 140.3,147.7 141.3,149.2 142.3,151.1 143.2,153.1 144.2,155.6" fill="#b2b2b2" stroke="#808080" stroke-width="0.5" stroke-linejoin="round"/>
<polyline points="131.8,155.8 132.9,152.8 133.9,150.2 134.7,146.8 135.6,144.9 136.5,141.6 137.3,139.6 138.2,135.3 139.0,133.8 139.9,130.1 140.8,130.8 141.6,130.0 142.6,124.4 143.6,120.2 144.5,120.1 145.5,117.3 146.8,123.3 147.8,127.2 148.7,127.6 150.0,134.4 151.3,143.7 152.6,150.3 153.9,153.1 154.6,153.4 155.4,154.0 156.2,154.8 156.9,153.9 157.7,154.4 158.4,154.5 159.3,155.2 160.1,155.3 161.0,155.7 161.7,155.7 162.5,155.7 163.2,155.8 164.0,155.8 164.7,155.8 165.4,155.8 166.2,155.8 166.9,155.8 167.7,155.9 168.4,155.9 169.1,155.9 169.9,155.9 170.6,155.9 171.4,156.0 172.1,156.0" fill="none" stroke="#707070" stroke-width="0.6" stroke-linejoin="round"/>
<path d="M131.6 115.1V156.1" fill="none" stroke="#3a3a3a" stroke-width="0.8"/>
<path d="M131.2 156.1H172.4" fill="none" stroke="#333" stroke-width="1"/>
<path d="M130.4 156.1H131.6M130.4 147.9H131.6M130.4 139.7H131.6M130.4 131.5H131.6M130.4 123.3H131.6M130.4 115.1H131.6M131.6 156.1V157.5M141.8 156.1V157.5M152.0 156.1V157.5M162.2 156.1V157.5M172.4 156.1V157.5" stroke="#555" stroke-width="0.6" fill="none"/>
<g font-size="2.0" fill="#000" font-weight="bold">
<text x="131.4" y="159.0" text-anchor="middle">10<tspan dy="-0.6" font-size="1.3">0</tspan></text>
<text x="141.6" y="159.0" text-anchor="middle">10<tspan dy="-0.6" font-size="1.3">1</tspan></text>
<text x="151.8" y="159.0" text-anchor="middle">10<tspan dy="-0.6" font-size="1.3">2</tspan></text>
<text x="162.0" y="159.0" text-anchor="middle">10<tspan dy="-0.6" font-size="1.3">3</tspan></text>
<text x="172.2" y="159.0" text-anchor="middle">10<tspan dy="-0.6" font-size="1.3">4</tspan></text>
<text x="129.9" y="156.7" text-anchor="end" font-size="1.7">0</text>
<text x="129.9" y="148.5" text-anchor="end" font-size="1.7">20</text>
<text x="129.9" y="140.3" text-anchor="end" font-size="1.7">40</text>
<text x="129.9" y="132.1" text-anchor="end" font-size="1.7">60</text>
<text x="129.9" y="123.9" text-anchor="end" font-size="1.7">80</text>
<text x="129.9" y="115.7" text-anchor="end" font-size="1.7">100</text>
<text x="152.0" y="161.1" text-anchor="middle" font-size="1.9" font-weight="normal">FL1-H</text>
<text transform="translate(125.3 134.1) rotate(-90)" text-anchor="middle" font-size="2.0" fill="#222">Counts</text>
</g></g>
<g filter="url(#bl)">
<path d="M188.7 115.1H229.5V156.1" fill="none" stroke="#9c9c9c" stroke-width="0.8"/>
<polygon points="189.0,156.1 189.2,115.5 189.8,121.6 190.4,128.7 191.7,139.1 193.0,146.2 193.9,147.7 194.9,150.5 195.8,151.0 196.6,152.3 197.5,153.1 198.5,154.6 199.4,155.8" fill="#b2b2b2" stroke="#808080" stroke-width="0.5" stroke-linejoin="round"/>
<polyline points="189.0,155.8 189.7,155.8 190.4,155.8 191.1,155.8 191.8,155.8 192.6,155.8 193.3,155.8 194.0,155.8 194.7,155.7 195.4,155.7 196.1,155.7 196.9,155.7 198.1,152.4 199.4,146.7 200.7,138.9 202.0,129.6 203.3,121.1 204.0,117.3 205.0,125.1 205.9,129.0 207.2,140.6 208.5,151.1 209.3,152.5 210.2,154.6 210.9,154.9 211.7,155.1 212.5,155.2 213.3,155.3 214.0,155.4 214.8,155.6 215.6,155.7 216.3,155.7 217.0,155.7 217.7,155.7 218.5,155.8 219.2,155.8 219.9,155.8 220.6,155.8 221.3,155.8 222.1,155.8 222.8,155.8 223.5,155.9 224.2,155.9 224.9,155.9 225.7,155.9 226.4,155.9 227.1,155.9 227.8,155.9 228.5,156.0 229.3,156.0" fill="none" stroke="#707070" stroke-width="0.6" stroke-linejoin="round"/>
<path d="M188.7 115.1V156.1" fill="none" stroke="#3a3a3a" stroke-width="0.8"/>
<path d="M188.3 156.1H229.5" fill="none" stroke="#333" stroke-width="1"/>
<path d="M187.5 156.1H188.7M187.5 147.9H188.7M187.5 139.7H188.7M187.5 131.5H188.7M187.5 123.3H188.7M187.5 115.1H188.7M188.7 156.1V157.5M198.9 156.1V157.5M209.1 156.1V157.5M219.3 156.1V157.5M229.5 156.1V157.5" stroke="#555" stroke-width="0.6" fill="none"/>
<g font-size="2.0" fill="#000" font-weight="bold">
<text x="188.5" y="159.0" text-anchor="middle">10<tspan dy="-0.6" font-size="1.3">0</tspan></text>
<text x="198.7" y="159.0" text-anchor="middle">10<tspan dy="-0.6" font-size="1.3">1</tspan></text>
<text x="208.9" y="159.0" text-anchor="middle">10<tspan dy="-0.6" font-size="1.3">2</tspan></text>
<text x="219.1" y="159.0" text-anchor="middle">10<tspan dy="-0.6" font-size="1.3">3</tspan></text>
<text x="229.3" y="159.0" text-anchor="middle">10<tspan dy="-0.6" font-size="1.3">4</tspan></text>
<text x="187.0" y="156.7" text-anchor="end" font-size="1.7">0</text>
<text x="187.0" y="148.5" text-anchor="end" font-size="1.7">20</text>
<text x="187.0" y="140.3" text-anchor="end" font-size="1.7">40</text>
<text x="187.0" y="132.1" text-anchor="end" font-size="1.7">60</text>
<text x="187.0" y="123.9" text-anchor="end" font-size="1.7">80</text>
<text x="187.0" y="115.7" text-anchor="end" font-size="1.7">100</text>
<text x="209.1" y="161.1" text-anchor="middle" font-size="1.9" font-weight="normal">FL1-H</text>
<text transform="translate(182.4 134.1) rotate(-90)" text-anchor="middle" font-size="2.0" fill="#222">Counts</text>
</g></g>
<g filter="url(#bl)">
<path d="M245.9 115.1H286.7V156.1" fill="none" stroke="#9c9c9c" stroke-width="0.8"/>
<polygon points="246.1,156.1 246.4,115.5 247.7,116.0 248.7,117.3 249.6,129.2 250.6,141.9 251.6,148.0 252.6,151.6 253.5,152.4 254.4,153.0 255.2,153.2 256.0,153.8 256.8,153.9 257.6,154.5 258.4,154.9 259.1,155.1 259.9,155.5 260.7,155.8" fill="#b2b2b2" stroke="#808080" stroke-width="0.5" stroke-linejoin="round"/>
<polyline points="246.1,155.8 246.8,155.8 247.6,155.8 248.3,155.8 249.0,155.8 249.7,155.8 250.4,155.8 251.1,155.8 251.8,155.8 252.5,155.8 253.2,155.8 253.9,155.8 254.7,155.8 255.4,155.8 256.1,155.8 256.8,155.8 257.5,155.8 258.2,155.8 258.9,155.8 259.6,155.8 260.3,155.8 261.0,155.8 261.7,155.8 262.5,155.8 263.2,155.8 263.9,155.7 264.6,155.7 265.3,155.7 266.0,155.7 266.7,155.7 267.4,155.7 268.1,155.7 268.8,155.7 269.5,155.7 270.3,155.7 271.0,155.7 271.7,155.7 272.4,155.7 273.3,155.3 274.1,155.0 275.0,154.3 276.0,152.2 276.9,149.0 277.8,146.3 278.6,140.5 279.9,127.0 280.7,123.1 281.5,117.3 282.5,125.3 283.4,137.6 284.3,148.5 285.4,154.5 286.4,155.8" fill="none" stroke="#707070" stroke-width="0.6" stroke-linejoin="round"/>
<path d="M245.9 115.1V156.1" fill="none" stroke="#3a3a3a" stroke-width="0.8"/>
<path d="M245.5 156.1H286.7" fill="none" stroke="#333" stroke-width="1"/>
<path d="M244.7 156.1H245.9M244.7 147.9H245.9M244.7 139.7H245.9M244.7 131.5H245.9M244.7 123.3H245.9M244.7 115.1H245.9M245.9 156.1V157.5M256.1 156.1V157.5M266.3 156.1V157.5M276.5 156.1V157.5M286.7 156.1V157.5" stroke="#555" stroke-width="0.6" fill="none"/>
<g font-size="2.0" fill="#000" font-weight="bold">
<text x="245.7" y="159.0" text-anchor="middle">10<tspan dy="-0.6" font-size="1.3">0</tspan></text>
<text x="255.9" y="159.0" text-anchor="middle">10<tspan dy="-0.6" font-size="1.3">1</tspan></text>
<text x="266.1" y="159.0" text-anchor="middle">10<tspan dy="-0.6" font-size="1.3">2</tspan></text>
<text x="276.3" y="159.0" text-anchor="middle">10<tspan dy="-0.6" font-size="1.3">3</tspan></text>
<text x="286.5" y="159.0" text-anchor="middle">10<tspan dy="-0.6" font-size="1.3">4</tspan></text>
<text x="244.2" y="156.7" text-anchor="end" font-size="1.7">0</text>
<text x="244.2" y="148.5" text-anchor="end" font-size="1.7">20</text>
<text x="244.2" y="140.3" text-anchor="end" font-size="1.7">40</text>
<text x="244.2" y="132.1" text-anchor="end" font-size="1.7">60</text>
<text x="244.2" y="123.9" text-anchor="end" font-size="1.7">80</text>
<text x="244.2" y="115.7" text-anchor="end" font-size="1.7">100</text>
<text x="266.3" y="161.1" text-anchor="middle" font-size="1.9" font-weight="normal">FL1-H</text>
<text transform="translate(239.6 134.1) rotate(-90)" text-anchor="middle" font-size="2.0" fill="#222">Counts</text>
</g></g>
<g filter="url(#bl)">
<path d="M303.0 115.1H343.8V156.1" fill="none" stroke="#9c9c9c" stroke-width="0.8"/>
<polygon points="303.3,156.1 303.6,115.5 304.6,116.0 305.5,117.3 306.8,130.3 308.1,137.9 309.4,145.2 310.4,148.2 311.4,150.5 312.3,151.1 313.3,152.9 314.1,154.4 315.0,155.8" fill="#b2b2b2" stroke="#808080" stroke-width="0.5" stroke-linejoin="round"/>
<polyline points="303.3,155.8 304.1,155.8 304.8,155.8 305.6,155.8 306.3,155.8 307.1,155.8 307.8,155.8 308.6,155.7 309.3,155.7 310.1,155.7 311.4,152.8 312.7,147.1 314.0,135.7 315.3,123.0 316.0,117.8 316.8,117.3 318.1,127.1 319.4,137.8 320.7,146.0 322.0,152.2 322.9,153.0 323.7,155.2 324.4,154.9 325.2,155.0 325.9,155.1 326.6,155.2 327.4,155.4 328.1,155.5 328.8,155.6 329.5,155.7 330.2,155.7 331.0,155.7 331.7,155.7 332.4,155.8 333.1,155.8 333.8,155.8 334.5,155.8 335.2,155.8 335.9,155.8 336.6,155.8 337.3,155.9 338.0,155.9 338.7,155.9 339.4,155.9 340.1,155.9 340.8,155.9 341.5,155.9 342.2,155.9 342.9,156.0 343.6,156.0" fill="none" stroke="#707070" stroke-width="0.6" stroke-linejoin="round"/>
<path d="M303.0 115.1V156.1" fill="none" stroke="#3a3a3a" stroke-width="0.8"/>
<path d="M302.6 156.1H343.8" fill="none" stroke="#333" stroke-width="1"/>
<path d="M301.8 156.1H303.0M301.8 147.9H303.0M301.8 139.7H303.0M301.8 131.5H303.0M301.8 123.3H303.0M301.8 115.1H303.0M303.0 156.1V157.5M313.2 156.1V157.5M323.4 156.1V157.5M333.6 156.1V157.5M343.8 156.1V157.5" stroke="#555" stroke-width="0.6" fill="none"/>
<g font-size="2.0" fill="#000" font-weight="bold">
<text x="302.8" y="159.0" text-anchor="middle">10<tspan dy="-0.6" font-size="1.3">0</tspan></text>
<text x="313.0" y="159.0" text-anchor="middle">10<tspan dy="-0.6" font-size="1.3">1</tspan></text>
<text x="323.2" y="159.0" text-anchor="middle">10<tspan dy="-0.6" font-size="1.3">2</tspan></text>
<text x="333.4" y="159.0" text-anchor="middle">10<tspan dy="-0.6" font-size="1.3">3</tspan></text>
<text x="343.6" y="159.0" text-anchor="middle">10<tspan dy="-0.6" font-size="1.3">4</tspan></text>
<text x="301.3" y="156.7" text-anchor="end" font-size="1.7">0</text>
<text x="301.3" y="148.5" text-anchor="end" font-size="1.7">20</text>
<text x="301.3" y="140.3" text-anchor="end" font-size="1.7">40</text>
<text x="301.3" y="132.1" text-anchor="end" font-size="1.7">60</text>
<text x="301.3" y="123.9" text-anchor="end" font-size="1.7">80</text>
<text x="301.3" y="115.7" text-anchor="end" font-size="1.7">100</text>
<text x="323.4" y="161.1" text-anchor="middle" font-size="1.9" font-weight="normal">FL1-H</text>
<text transform="translate(296.7 134.1) rotate(-90)" text-anchor="middle" font-size="2.0" fill="#222">Counts</text>
</g></g>
<g filter="url(#bl)">
<path d="M360.2 115.1H401.0V156.1" fill="none" stroke="#9c9c9c" stroke-width="0.8"/>
<polygon points="360.5,156.1 360.7,115.5 362.0,116.0 363.0,119.0 364.3,128.2 365.6,137.4 366.6,141.5 367.6,145.5 368.6,146.7 369.5,148.0 370.5,150.5 371.5,153.1 372.3,154.7 373.2,155.8" fill="#b2b2b2" stroke="#808080" stroke-width="0.5" stroke-linejoin="round"/>
<polyline points="360.5,155.8 361.2,155.8 362.0,155.7 362.7,155.6 363.5,155.5 364.2,155.4 365.0,155.3 366.0,153.1 366.9,150.3 368.2,141.6 369.5,135.7 370.8,123.6 372.1,118.4 373.2,119.3 374.1,121.8 375.0,119.3 376.0,117.3 377.0,121.9 377.9,131.3 379.2,146.3 380.5,149.0 381.5,151.5 382.5,153.0 383.4,152.7 384.4,154.1 385.3,152.4 386.1,150.5 387.4,154.4 388.2,155.1 389.0,155.7 389.7,155.7 390.4,155.7 391.1,155.8 391.8,155.8 392.5,155.8 393.2,155.8 393.9,155.8 394.6,155.8 395.3,155.8 396.0,155.9 396.7,155.9 397.4,155.9 398.1,155.9 398.8,155.9 399.5,155.9 400.2,156.0 400.9,156.0" fill="none" stroke="#707070" stroke-width="0.6" stroke-linejoin="round"/>
<path d="M360.2 115.1V156.1" fill="none" stroke="#3a3a3a" stroke-width="0.8"/>
<path d="M359.8 156.1H401.0" fill="none" stroke="#333" stroke-width="1"/>
<path d="M359.0 156.1H360.2M359.0 147.9H360.2M359.0 139.7H360.2M359.0 131.5H360.2M359.0 123.3H360.2M359.0 115.1H360.2M360.2 156.1V157.5M370.4 156.1V157.5M380.6 156.1V157.5M390.8 156.1V157.5M401.0 156.1V157.5" stroke="#555" stroke-width="0.6" fill="none"/>
<g font-size="2.0" fill="#000" font-weight="bold">
<text x="360.0" y="159.0" text-anchor="middle">10<tspan dy="-0.6" font-size="1.3">0</tspan></text>
<text x="370.2" y="159.0" text-anchor="middle">10<tspan dy="-0.6" font-size="1.3">1</tspan></text>
<text x="380.4" y="159.0" text-anchor="middle">10<tspan dy="-0.6" font-size="1.3">2</tspan></text>
<text x="390.6" y="159.0" text-anchor="middle">10<tspan dy="-0.6" font-size="1.3">3</tspan></text>
<text x="400.8" y="159.0" text-anchor="middle">10<tspan dy="-0.6" font-size="1.3">4</tspan></text>
<text x="358.5" y="156.7" text-anchor="end" font-size="1.7">0</text>
<text x="358.5" y="148.5" text-anchor="end" font-size="1.7">20</text>
<text x="358.5" y="140.3" text-anchor="end" font-size="1.7">40</text>
<text x="358.5" y="132.1" text-anchor="end" font-size="1.7">60</text>
<text x="358.5" y="123.9" text-anchor="end" font-size="1.7">80</text>
<text x="358.5" y="115.7" text-anchor="end" font-size="1.7">100</text>
<text x="380.6" y="161.1" text-anchor="middle" font-size="1.9" font-weight="normal">FL1-H</text>
<text transform="translate(353.9 134.1) rotate(-90)" text-anchor="middle" font-size="2.0" fill="#222">Counts</text>
</g></g>
<g filter="url(#bl)">
<path d="M417.4 115.1H458.2V156.1" fill="none" stroke="#9c9c9c" stroke-width="0.8"/>
<polygon points="417.6,156.1 417.9,134.1 418.7,122.8 419.7,117.3 421.0,130.6 422.3,137.1 423.6,142.1 424.5,144.5 425.5,146.3 426.5,148.5 427.4,151.3 428.3,152.5 429.2,154.3 430.0,155.6" fill="#b2b2b2" stroke="#808080" stroke-width="0.5" stroke-linejoin="round"/>
<polyline points="417.6,155.4 418.3,155.4 419.0,155.4 419.7,155.3 420.4,155.3 421.1,155.2 421.8,155.2 422.5,155.1 423.2,155.1 423.9,155.0 424.6,155.0 425.3,154.9 426.0,154.9 426.7,154.4 427.4,154.8 428.2,154.3 429.0,155.0 429.9,153.9 430.7,153.1 431.5,151.5 432.4,151.4 433.2,149.7 434.2,146.9 435.2,146.6 436.1,143.9 437.1,141.9 438.1,136.4 439.1,131.5 440.3,126.3 441.6,119.5 442.7,120.1 443.6,129.1 444.5,140.9 445.5,150.0 446.8,155.1 447.5,155.1 448.3,155.2 449.0,155.3 449.7,155.4 450.5,155.5 451.2,155.6 452.0,155.7 452.7,155.7 453.4,155.8 454.2,155.8 454.9,155.8 455.7,155.9 456.4,155.9 457.2,155.9 457.9,156.0" fill="none" stroke="#707070" stroke-width="0.6" stroke-linejoin="round"/>
<path d="M417.4 115.1V156.1" fill="none" stroke="#3a3a3a" stroke-width="0.8"/>
<path d="M417.0 156.1H458.2" fill="none" stroke="#333" stroke-width="1"/>
<path d="M416.2 156.1H417.4M416.2 147.9H417.4M416.2 139.7H417.4M416.2 131.5H417.4M416.2 123.3H417.4M416.2 115.1H417.4M417.4 156.1V157.5M427.6 156.1V157.5M437.8 156.1V157.5M448.0 156.1V157.5M458.2 156.1V157.5" stroke="#555" stroke-width="0.6" fill="none"/>
<g font-size="2.0" fill="#000" font-weight="bold">
<text x="417.2" y="159.0" text-anchor="middle">10<tspan dy="-0.6" font-size="1.3">0</tspan></text>
<text x="427.4" y="159.0" text-anchor="middle">10<tspan dy="-0.6" font-size="1.3">1</tspan></text>
<text x="437.6" y="159.0" text-anchor="middle">10<tspan dy="-0.6" font-size="1.3">2</tspan></text>
<text x="447.8" y="159.0" text-anchor="middle">10<tspan dy="-0.6" font-size="1.3">3</tspan></text>
<text x="458.0" y="159.0" text-anchor="middle">10<tspan dy="-0.6" font-size="1.3">4</tspan></text>
<text x="415.7" y="156.7" text-anchor="end" font-size="1.7">0</text>
<text x="415.7" y="148.5" text-anchor="end" font-size="1.7">20</text>
<text x="415.7" y="140.3" text-anchor="end" font-size="1.7">40</text>
<text x="415.7" y="132.1" text-anchor="end" font-size="1.7">60</text>
<text x="415.7" y="123.9" text-anchor="end" font-size="1.7">80</text>
<text x="415.7" y="115.7" text-anchor="end" font-size="1.7">100</text>
<text x="437.8" y="161.1" text-anchor="middle" font-size="1.9" font-weight="normal">FL1-H</text>
<text transform="translate(411.1 134.1) rotate(-90)" text-anchor="middle" font-size="2.0" fill="#222">Counts</text>
</g></g>
<g filter="url(#bl)">
<path d="M474.5 115.1H515.3V156.1" fill="none" stroke="#9c9c9c" stroke-width="0.8"/>
<polygon points="474.8,156.1 475.0,115.5 475.6,121.8 476.4,126.6 477.4,138.2 478.7,144.4 480.0,148.1 481.0,149.9 482.0,151.6 483.0,153.1 483.9,154.5 485.2,155.8" fill="#b2b2b2" stroke="#808080" stroke-width="0.5" stroke-linejoin="round"/>
<polyline points="474.8,155.4 475.8,154.4 476.7,153.1 477.7,151.2 478.7,150.0 480.0,144.8 481.3,133.9 482.6,122.3 483.7,118.1 484.7,125.4 485.9,136.2 487.2,145.5 488.5,150.9 489.5,151.8 490.5,153.1 491.3,153.1 492.2,153.6 493.1,153.6 494.4,153.0 495.4,153.9 496.4,155.1 497.2,155.2 498.0,155.4 498.8,155.5 499.6,155.7 500.3,155.7 501.0,155.7 501.7,155.7 502.4,155.8 503.1,155.8 503.8,155.8 504.5,155.8 505.2,155.8 505.9,155.8 506.6,155.8 507.3,155.8 508.0,155.8 508.7,155.9 509.4,155.9 510.1,155.9 510.9,155.9 511.6,155.9 512.3,155.9 513.0,155.9 513.7,155.9 514.4,156.0 515.1,156.0" fill="none" stroke="#707070" stroke-width="0.6" stroke-linejoin="round"/>
<path d="M474.5 115.1V156.1" fill="none" stroke="#3a3a3a" stroke-width="0.8"/>
<path d="M474.1 156.1H515.3" fill="none" stroke="#333" stroke-width="1"/>
<path d="M473.3 156.1H474.5M473.3 147.9H474.5M473.3 139.7H474.5M473.3 131.5H474.5M473.3 123.3H474.5M473.3 115.1H474.5M474.5 156.1V157.5M484.7 156.1V157.5M494.9 156.1V157.5M505.1 156.1V157.5M515.3 156.1V157.5" stroke="#555" stroke-width="0.6" fill="none"/>
<g font-size="2.0" fill="#000" font-weight="bold">
<text x="474.3" y="159.0" text-anchor="middle">10<tspan dy="-0.6" font-size="1.3">0</tspan></text>
<text x="484.5" y="159.0" text-anchor="middle">10<tspan dy="-0.6" font-size="1.3">1</tspan></text>
<text x="494.7" y="159.0" text-anchor="middle">10<tspan dy="-0.6" font-size="1.3">2</tspan></text>
<text x="504.9" y="159.0" text-anchor="middle">10<tspan dy="-0.6" font-size="1.3">3</tspan></text>
<text x="515.1" y="159.0" text-anchor="middle">10<tspan dy="-0.6" font-size="1.3">4</tspan></text>
<text x="472.8" y="156.7" text-anchor="end" font-size="1.7">0</text>
<text x="472.8" y="148.5" text-anchor="end" font-size="1.7">20</text>
<text x="472.8" y="140.3" text-anchor="end" font-size="1.7">40</text>
<text x="472.8" y="132.1" text-anchor="end" font-size="1.7">60</text>
<text x="472.8" y="123.9" text-anchor="end" font-size="1.7">80</text>
<text x="472.8" y="115.7" text-anchor="end" font-size="1.7">100</text>
<text x="494.9" y="161.1" text-anchor="middle" font-size="1.9" font-weight="normal">FL1-H</text>
<text transform="translate(468.2 134.1) rotate(-90)" text-anchor="middle" font-size="2.0" fill="#222">Counts</text>
</g></g>
<text x="42.3" y="191.6" font-size="14.8" fill="#000" stroke="#000" stroke-width="0.18">B</text>
<text transform="translate(86.2 364.6) rotate(-90) scale(0.955 1)" font-size="10.4" word-spacing="2.0" fill="#000" stroke="#000" stroke-width="0.18">Fold change MFI relative to monocytes</text>
<text transform="translate(100 306.4) rotate(-90)" font-size="10.5" textLength="66.1" lengthAdjust="spacingAndGlyphs" fill="#000" stroke="#000" stroke-width="0.18">(Log10 scale)</text>
<path d="M132.9 185.7V350.8" stroke="#000" stroke-width="2.2" fill="none"/>
<path d="M127.7 186.6H132.9" stroke="#000" stroke-width="1.9"/>
<text x="101.2" y="191.3" font-size="13.8" textLength="24.5" lengthAdjust="spacingAndGlyphs" fill="#000" stroke="#000" stroke-width="0.2">1000</text>
<path d="M127.7 219.3H132.9" stroke="#000" stroke-width="1.9"/>
<text x="107.5" y="224.0" font-size="13.8" textLength="18.2" lengthAdjust="spacingAndGlyphs" fill="#000" stroke="#000" stroke-width="0.2">100</text>
<path d="M127.7 251.9H132.9" stroke="#000" stroke-width="1.9"/>
<text x="113.6" y="256.6" font-size="13.8" textLength="12.1" lengthAdjust="spacingAndGlyphs" fill="#000" stroke="#000" stroke-width="0.2">10</text>
<path d="M127.7 284.6H132.9" stroke="#000" stroke-width="1.9"/>
<text x="119.7" y="289.3" font-size="13.8" textLength="6.0" lengthAdjust="spacingAndGlyphs" fill="#000" stroke="#000" stroke-width="0.2">1</text>
<path d="M127.7 317.2H132.9" stroke="#000" stroke-width="1.9"/>
<text x="110.5" y="321.9" font-size="13.8" textLength="15.2" lengthAdjust="spacingAndGlyphs" fill="#000" stroke="#000" stroke-width="0.2">0.1</text>
<path d="M127.7 349.9H132.9" stroke="#000" stroke-width="1.9"/>
<text x="104.6" y="354.6" font-size="13.8" textLength="21.1" lengthAdjust="spacingAndGlyphs" fill="#000" stroke="#000" stroke-width="0.2">0.01</text>
<rect x="151.30" y="284.7" width="13.00" height="64.8" fill="#fff" stroke="#000" stroke-width="1.8"/>
<path d="M170.9 324.9V322.6M167.3 322.6H174.7" stroke="#000" stroke-width="1.5" fill="none"/>
<rect x="164.30" y="324.8" width="13.00" height="24.7" fill="#8e8e8e" stroke="#000" stroke-width="1.8"/>
<text x="163.9" y="323.9" font-size="16.5" font-weight="bold" textLength="11.5" lengthAdjust="spacingAndGlyphs" fill="#000">**</text>
<path d="M183.9 309.8V307.1M180.2 307.1H187.9" stroke="#000" stroke-width="1.5" fill="none"/>
<rect x="176.15" y="308.8" width="15.5" height="42.2" fill="#000"/>
<text x="174.9" y="307.7" font-size="16.5" font-weight="bold" textLength="17.2" lengthAdjust="spacingAndGlyphs" fill="#000">***</text>
<rect x="197.30" y="284.7" width="13.00" height="64.8" fill="#fff" stroke="#000" stroke-width="1.8"/>
<path d="M216.9 271.3V268.7M213.3 268.7H220.7" stroke="#000" stroke-width="1.5" fill="none"/>
<rect x="210.30" y="271.2" width="13.00" height="78.3" fill="#8e8e8e" stroke="#000" stroke-width="1.8"/>
<text x="210.2" y="269.4" font-size="16.5" font-weight="bold" textLength="11.5" lengthAdjust="spacingAndGlyphs" fill="#000">**</text>
<path d="M229.9 248.0V245.5M226.2 245.5H233.9" stroke="#000" stroke-width="1.5" fill="none"/>
<rect x="222.15" y="247.0" width="15.5" height="104.0" fill="#000"/>
<rect x="243.30" y="284.7" width="13.00" height="64.8" fill="#fff" stroke="#000" stroke-width="1.8"/>
<path d="M262.9 283.0V279.4M259.3 279.4H266.7" stroke="#000" stroke-width="1.5" fill="none"/>
<rect x="256.30" y="282.9" width="13.00" height="66.6" fill="#8e8e8e" stroke="#000" stroke-width="1.8"/>
<text x="259.7" y="281.4" font-size="16.5" font-weight="bold" textLength="5.8" lengthAdjust="spacingAndGlyphs" fill="#000">*</text>
<path d="M275.9 281.1V278.6M272.2 278.6H279.9" stroke="#000" stroke-width="1.5" fill="none"/>
<rect x="268.15" y="280.1" width="15.5" height="70.9" fill="#000"/>
<text x="273.9" y="279.5" font-size="16.5" font-weight="bold" textLength="5.8" lengthAdjust="spacingAndGlyphs" fill="#000">*</text>
<rect x="289.30" y="284.7" width="13.00" height="64.8" fill="#fff" stroke="#000" stroke-width="1.8"/>
<path d="M308.9 256.7V253.8M305.3 253.8H312.7" stroke="#000" stroke-width="1.5" fill="none"/>
<rect x="302.30" y="256.6" width="13.00" height="92.9" fill="#8e8e8e" stroke="#000" stroke-width="1.8"/>
<path d="M321.9 255.6V253.4M318.2 253.4H325.9" stroke="#000" stroke-width="1.5" fill="none"/>
<rect x="314.15" y="254.6" width="15.5" height="96.4" fill="#000"/>
<rect x="335.30" y="284.7" width="13.00" height="64.8" fill="#fff" stroke="#000" stroke-width="1.8"/>
<path d="M354.9 258.2V256.2M351.3 256.2H358.7" stroke="#000" stroke-width="1.5" fill="none"/>
<rect x="348.30" y="258.1" width="13.00" height="91.4" fill="#8e8e8e" stroke="#000" stroke-width="1.8"/>
<text x="344.9" y="258.8" font-size="16.5" font-weight="bold" textLength="17.2" lengthAdjust="spacingAndGlyphs" fill="#000">***</text>
<path d="M367.9 246.9V244.7M364.2 244.7H371.9" stroke="#000" stroke-width="1.5" fill="none"/>
<rect x="360.15" y="245.9" width="15.5" height="105.1" fill="#000"/>
<text x="359.2" y="247.1" font-size="16.5" font-weight="bold" textLength="17.2" lengthAdjust="spacingAndGlyphs" fill="#000">***</text>
<rect x="381.30" y="284.7" width="13.00" height="64.8" fill="#fff" stroke="#000" stroke-width="1.8"/>
<path d="M400.9 275.1V272.4M397.3 272.4H404.7" stroke="#000" stroke-width="1.5" fill="none"/>
<rect x="394.30" y="275.0" width="13.00" height="74.5" fill="#8e8e8e" stroke="#000" stroke-width="1.8"/>
<text x="398.2" y="274.5" font-size="16.5" font-weight="bold" textLength="5.8" lengthAdjust="spacingAndGlyphs" fill="#000">*</text>
<path d="M413.9 270.3V267.4M410.2 267.4H417.9" stroke="#000" stroke-width="1.5" fill="none"/>
<rect x="406.15" y="269.3" width="15.5" height="81.7" fill="#000"/>
<text x="408.4" y="267.7" font-size="16.5" font-weight="bold" textLength="11.5" lengthAdjust="spacingAndGlyphs" fill="#000">**</text>
<rect x="427.30" y="284.7" width="13.00" height="64.8" fill="#fff" stroke="#000" stroke-width="1.8"/>
<path d="M446.9 218.9V215.7M443.3 215.7H450.7" stroke="#000" stroke-width="1.5" fill="none"/>
<rect x="440.30" y="218.8" width="13.00" height="130.7" fill="#8e8e8e" stroke="#000" stroke-width="1.8"/>
<text x="436.0" y="218.1" font-size="16.5" font-weight="bold" textLength="17.2" lengthAdjust="spacingAndGlyphs" fill="#000">***</text>
<path d="M459.9 216.3V214.8M456.2 214.8H463.9" stroke="#000" stroke-width="1.5" fill="none"/>
<rect x="452.15" y="215.3" width="15.5" height="135.7" fill="#000"/>
<text x="454.0" y="216.8" font-size="16.5" font-weight="bold" textLength="17.2" lengthAdjust="spacingAndGlyphs" fill="#000">***</text>
<rect x="473.30" y="284.7" width="13.00" height="64.8" fill="#fff" stroke="#000" stroke-width="1.8"/>
<path d="M492.9 266.0V261.4M489.3 261.4H496.7" stroke="#000" stroke-width="1.5" fill="none"/>
<rect x="486.30" y="265.9" width="13.00" height="83.6" fill="#8e8e8e" stroke="#000" stroke-width="1.8"/>
<text x="489.4" y="264.3" font-size="16.5" font-weight="bold" textLength="5.8" lengthAdjust="spacingAndGlyphs" fill="#000">*</text>
<path d="M505.9 263.9V261.4M502.2 261.4H509.9" stroke="#000" stroke-width="1.5" fill="none"/>
<rect x="498.15" y="262.9" width="15.5" height="88.1" fill="#000"/>
<text x="499.2" y="263.9" font-size="16.5" font-weight="bold" textLength="11.5" lengthAdjust="spacingAndGlyphs" fill="#000">**</text>
<path d="M147.2 367.85H518.2" stroke="#000" stroke-width="1.9"/>
<text x="156.3" y="382.8" font-size="10.3" textLength="26.7" lengthAdjust="spacingAndGlyphs" fill="#000" stroke="#000" stroke-width="0.3">CD14</text>
<text x="203.8" y="382.8" font-size="10.3" textLength="26.2" lengthAdjust="spacingAndGlyphs" fill="#000" stroke="#000" stroke-width="0.3">CD80</text>
<text x="248.0" y="382.8" font-size="10.3" textLength="27.0" lengthAdjust="spacingAndGlyphs" fill="#000" stroke="#000" stroke-width="0.3">CD86</text>
<text x="295.8" y="382.8" font-size="10.3" textLength="31.2" lengthAdjust="spacingAndGlyphs" fill="#000" stroke="#000" stroke-width="0.3">CD11c</text>
<text x="345.0" y="382.8" font-size="10.3" textLength="26.8" lengthAdjust="spacingAndGlyphs" fill="#000" stroke="#000" stroke-width="0.3">CD40</text>
<text x="390.5" y="382.8" font-size="10.3" textLength="33.3" lengthAdjust="spacingAndGlyphs" fill="#000" stroke="#000" stroke-width="0.3">HLADR</text>
<text x="434.5" y="382.8" font-size="10.3" textLength="43.5" lengthAdjust="spacingAndGlyphs" fill="#000" stroke="#000" stroke-width="0.3">DC-SIGN</text>
<text x="485.0" y="382.8" font-size="10.3" textLength="26.0" lengthAdjust="spacingAndGlyphs" fill="#000" stroke="#000" stroke-width="0.3">CD1a</text>
<text x="163.5" y="284.7" font-size="10.4" textLength="37.6" lengthAdjust="spacingAndGlyphs" fill="#000" stroke="#000" stroke-width="0.2">p&lt;0.001</text>
<path d="M167.3 292.5H182.9" stroke="#8a8a8a" stroke-width="1.5"/>
<text x="197.2" y="229.3" font-size="10.4" textLength="37.6" lengthAdjust="spacingAndGlyphs" fill="#000" stroke="#000" stroke-width="0.2">p&lt;0.001</text>
<path d="M212.5 234.4H227.8" stroke="#444" stroke-width="1.1"/>
<text x="338.9" y="229.0" font-size="10.4" textLength="37.6" lengthAdjust="spacingAndGlyphs" fill="#000" stroke="#000" stroke-width="0.2">p&lt;0.001</text>
<path d="M354.8 232.3H370.4" stroke="#3a3a3a" stroke-width="1.1"/>
<text x="396.6" y="246.8" font-size="10.4" textLength="32.6" lengthAdjust="spacingAndGlyphs" fill="#000" stroke="#000" stroke-width="0.2">p&lt;0.05</text>
<path d="M400.2 253.9H415.9" stroke="#3a3a3a" stroke-width="1.1"/>
</svg>
</body></html>
